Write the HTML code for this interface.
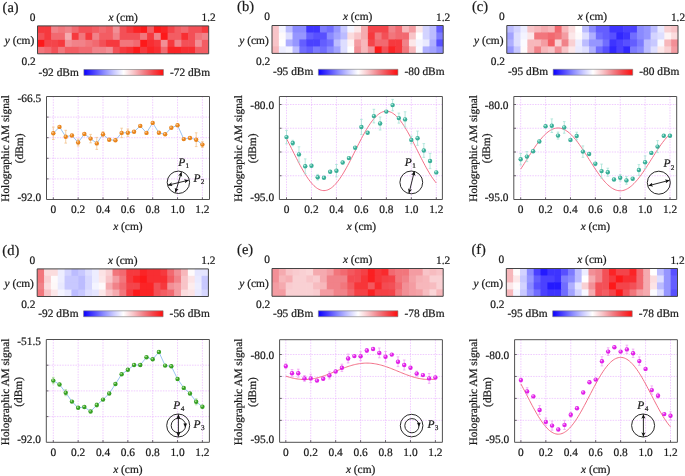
<!DOCTYPE html><html><head><meta charset="utf-8"><style>html,body{margin:0;padding:0;background:#fff;width:685px;height:476px;overflow:hidden}svg{display:block;will-change:transform}text{text-rendering:geometricPrecision;-webkit-font-smoothing:antialiased;stroke:#1a1a1a;stroke-width:0.22px}</style></head><body>
<svg width="685" height="476" viewBox="0 0 685 476" font-family="'Liberation Serif', serif" fill="#1a1a1a" stroke-linejoin="round">
<defs>
<radialGradient id="g_orange" cx="0.38" cy="0.35" r="0.65"><stop offset="0" stop-color="#ffd9a8"/><stop offset="0.45" stop-color="#e8841c"/><stop offset="1" stop-color="#e8841c"/></radialGradient>
<radialGradient id="g_teal" cx="0.38" cy="0.35" r="0.65"><stop offset="0" stop-color="#d2fff3"/><stop offset="0.45" stop-color="#3aae98"/><stop offset="1" stop-color="#3aae98"/></radialGradient>
<radialGradient id="g_green" cx="0.38" cy="0.35" r="0.65"><stop offset="0" stop-color="#d0f5b8"/><stop offset="0.45" stop-color="#36a024"/><stop offset="1" stop-color="#36a024"/></radialGradient>
<radialGradient id="g_magenta" cx="0.38" cy="0.35" r="0.65"><stop offset="0" stop-color="#ffc8ff"/><stop offset="0.45" stop-color="#e020e8"/><stop offset="1" stop-color="#e020e8"/></radialGradient>
<linearGradient id="cbar" x1="0" x2="1" y1="0" y2="0"><stop offset="0.000" stop-color="rgb(10, 0, 255)"/><stop offset="0.125" stop-color="rgb(75, 65, 255)"/><stop offset="0.250" stop-color="rgb(138, 138, 255)"/><stop offset="0.375" stop-color="rgb(200, 200, 255)"/><stop offset="0.500" stop-color="rgb(255, 255, 255)"/><stop offset="0.625" stop-color="rgb(248, 196, 200)"/><stop offset="0.750" stop-color="rgb(241, 130, 137)"/><stop offset="0.875" stop-color="rgb(244, 68, 74)"/><stop offset="1.000" stop-color="rgb(255, 14, 14)"/></linearGradient>
<marker id="ah" viewBox="0 0 10 10" refX="9.5" refY="5" markerWidth="4.6" markerHeight="4.6" orient="auto-start-reverse" markerUnits="userSpaceOnUse"><path d="M0,0.5 L10,5 L0,9.5 L2.5,5 z" fill="#111"/></marker>
</defs>
<text x="2.6" y="11.5" font-size="14.5" text-anchor="start">(a)</text>
<rect x="37.5" y="25.9" width="7.45" height="7.57" fill="rgb(246,57,62)"/>
<rect x="44.35" y="25.9" width="7.45" height="7.57" fill="rgb(246,57,62)"/>
<rect x="51.2" y="25.9" width="7.45" height="7.57" fill="rgb(241,130,137)"/>
<rect x="58.04" y="25.9" width="7.45" height="7.57" fill="rgb(242,118,124)"/>
<rect x="64.89" y="25.9" width="7.45" height="7.57" fill="rgb(241,130,137)"/>
<rect x="71.74" y="25.9" width="7.45" height="7.57" fill="rgb(242,105,112)"/>
<rect x="78.59" y="25.9" width="7.45" height="7.57" fill="rgb(243,80,87)"/>
<rect x="85.44" y="25.9" width="7.45" height="7.57" fill="rgb(243,80,87)"/>
<rect x="92.28" y="25.9" width="7.45" height="7.57" fill="rgb(243,93,99)"/>
<rect x="99.13" y="25.9" width="7.45" height="7.57" fill="rgb(242,105,112)"/>
<rect x="105.98" y="25.9" width="7.45" height="7.57" fill="rgb(243,93,99)"/>
<rect x="112.83" y="25.9" width="7.45" height="7.57" fill="rgb(242,143,150)"/>
<rect x="119.68" y="25.9" width="7.45" height="7.57" fill="rgb(243,80,87)"/>
<rect x="126.52" y="25.9" width="7.45" height="7.57" fill="rgb(246,57,62)"/>
<rect x="133.37" y="25.9" width="7.45" height="7.57" fill="rgb(251,36,38)"/>
<rect x="140.22" y="25.9" width="7.45" height="7.57" fill="rgb(253,25,26)"/>
<rect x="147.07" y="25.9" width="7.45" height="7.57" fill="rgb(243,93,99)"/>
<rect x="153.92" y="25.9" width="7.45" height="7.57" fill="rgb(253,25,26)"/>
<rect x="160.76" y="25.9" width="7.45" height="7.57" fill="rgb(251,36,38)"/>
<rect x="167.61" y="25.9" width="7.45" height="7.57" fill="rgb(244,68,74)"/>
<rect x="174.46" y="25.9" width="7.45" height="7.57" fill="rgb(243,93,99)"/>
<rect x="181.31" y="25.9" width="7.45" height="7.57" fill="rgb(242,105,112)"/>
<rect x="188.16" y="25.9" width="7.45" height="7.57" fill="rgb(243,80,87)"/>
<rect x="195" y="25.9" width="7.45" height="7.57" fill="rgb(243,80,87)"/>
<rect x="201.85" y="25.9" width="6.85" height="7.57" fill="rgb(246,57,62)"/>
<rect x="37.5" y="32.88" width="7.45" height="7.57" fill="rgb(243,80,87)"/>
<rect x="44.35" y="32.88" width="7.45" height="7.57" fill="rgb(246,57,62)"/>
<rect x="51.2" y="32.88" width="7.45" height="7.57" fill="rgb(242,105,112)"/>
<rect x="58.04" y="32.88" width="7.45" height="7.57" fill="rgb(242,105,112)"/>
<rect x="64.89" y="32.88" width="7.45" height="7.57" fill="rgb(245,170,175)"/>
<rect x="71.74" y="32.88" width="7.45" height="7.57" fill="rgb(246,57,62)"/>
<rect x="78.59" y="32.88" width="7.45" height="7.57" fill="rgb(242,118,124)"/>
<rect x="85.44" y="32.88" width="7.45" height="7.57" fill="rgb(246,57,62)"/>
<rect x="92.28" y="32.88" width="7.45" height="7.57" fill="rgb(241,130,137)"/>
<rect x="99.13" y="32.88" width="7.45" height="7.57" fill="rgb(243,93,99)"/>
<rect x="105.98" y="32.88" width="7.45" height="7.57" fill="rgb(243,93,99)"/>
<rect x="112.83" y="32.88" width="7.45" height="7.57" fill="rgb(241,130,137)"/>
<rect x="119.68" y="32.88" width="7.45" height="7.57" fill="rgb(243,80,87)"/>
<rect x="126.52" y="32.88" width="7.45" height="7.57" fill="rgb(243,80,87)"/>
<rect x="133.37" y="32.88" width="7.45" height="7.57" fill="rgb(243,80,87)"/>
<rect x="140.22" y="32.88" width="7.45" height="7.57" fill="rgb(242,118,124)"/>
<rect x="147.07" y="32.88" width="7.45" height="7.57" fill="rgb(246,57,62)"/>
<rect x="153.92" y="32.88" width="7.45" height="7.57" fill="rgb(241,130,137)"/>
<rect x="160.76" y="32.88" width="7.45" height="7.57" fill="rgb(253,25,26)"/>
<rect x="167.61" y="32.88" width="7.45" height="7.57" fill="rgb(243,93,99)"/>
<rect x="174.46" y="32.88" width="7.45" height="7.57" fill="rgb(243,93,99)"/>
<rect x="181.31" y="32.88" width="7.45" height="7.57" fill="rgb(248,46,50)"/>
<rect x="188.16" y="32.88" width="7.45" height="7.57" fill="rgb(243,80,87)"/>
<rect x="195" y="32.88" width="7.45" height="7.57" fill="rgb(242,118,124)"/>
<rect x="201.85" y="32.88" width="6.85" height="7.57" fill="rgb(241,130,137)"/>
<rect x="37.5" y="39.85" width="7.45" height="7.57" fill="rgb(253,25,26)"/>
<rect x="44.35" y="39.85" width="7.45" height="7.57" fill="rgb(244,68,74)"/>
<rect x="51.2" y="39.85" width="7.45" height="7.57" fill="rgb(244,68,74)"/>
<rect x="58.04" y="39.85" width="7.45" height="7.57" fill="rgb(246,57,62)"/>
<rect x="64.89" y="39.85" width="7.45" height="7.57" fill="rgb(242,143,150)"/>
<rect x="71.74" y="39.85" width="7.45" height="7.57" fill="rgb(241,130,137)"/>
<rect x="78.59" y="39.85" width="7.45" height="7.57" fill="rgb(241,130,137)"/>
<rect x="85.44" y="39.85" width="7.45" height="7.57" fill="rgb(242,118,124)"/>
<rect x="92.28" y="39.85" width="7.45" height="7.57" fill="rgb(242,105,112)"/>
<rect x="99.13" y="39.85" width="7.45" height="7.57" fill="rgb(243,80,87)"/>
<rect x="105.98" y="39.85" width="7.45" height="7.57" fill="rgb(246,57,62)"/>
<rect x="112.83" y="39.85" width="7.45" height="7.57" fill="rgb(246,57,62)"/>
<rect x="119.68" y="39.85" width="7.45" height="7.57" fill="rgb(242,118,124)"/>
<rect x="126.52" y="39.85" width="7.45" height="7.57" fill="rgb(242,118,124)"/>
<rect x="133.37" y="39.85" width="7.45" height="7.57" fill="rgb(242,105,112)"/>
<rect x="140.22" y="39.85" width="7.45" height="7.57" fill="rgb(253,25,26)"/>
<rect x="147.07" y="39.85" width="7.45" height="7.57" fill="rgb(248,46,50)"/>
<rect x="153.92" y="39.85" width="7.45" height="7.57" fill="rgb(246,57,62)"/>
<rect x="160.76" y="39.85" width="7.45" height="7.57" fill="rgb(242,143,150)"/>
<rect x="167.61" y="39.85" width="7.45" height="7.57" fill="rgb(246,57,62)"/>
<rect x="174.46" y="39.85" width="7.45" height="7.57" fill="rgb(241,130,137)"/>
<rect x="181.31" y="39.85" width="7.45" height="7.57" fill="rgb(243,80,87)"/>
<rect x="188.16" y="39.85" width="7.45" height="7.57" fill="rgb(243,80,87)"/>
<rect x="195" y="39.85" width="7.45" height="7.57" fill="rgb(242,143,150)"/>
<rect x="201.85" y="39.85" width="6.85" height="7.57" fill="rgb(243,93,99)"/>
<rect x="37.5" y="46.82" width="7.45" height="6.97" fill="rgb(242,118,124)"/>
<rect x="44.35" y="46.82" width="7.45" height="6.97" fill="rgb(242,105,112)"/>
<rect x="51.2" y="46.82" width="7.45" height="6.97" fill="rgb(243,80,87)"/>
<rect x="58.04" y="46.82" width="7.45" height="6.97" fill="rgb(242,118,124)"/>
<rect x="64.89" y="46.82" width="7.45" height="6.97" fill="rgb(243,93,99)"/>
<rect x="71.74" y="46.82" width="7.45" height="6.97" fill="rgb(243,93,99)"/>
<rect x="78.59" y="46.82" width="7.45" height="6.97" fill="rgb(242,105,112)"/>
<rect x="85.44" y="46.82" width="7.45" height="6.97" fill="rgb(242,105,112)"/>
<rect x="92.28" y="46.82" width="7.45" height="6.97" fill="rgb(241,130,137)"/>
<rect x="99.13" y="46.82" width="7.45" height="6.97" fill="rgb(241,130,137)"/>
<rect x="105.98" y="46.82" width="7.45" height="6.97" fill="rgb(242,143,150)"/>
<rect x="112.83" y="46.82" width="7.45" height="6.97" fill="rgb(243,80,87)"/>
<rect x="119.68" y="46.82" width="7.45" height="6.97" fill="rgb(246,57,62)"/>
<rect x="126.52" y="46.82" width="7.45" height="6.97" fill="rgb(248,46,50)"/>
<rect x="133.37" y="46.82" width="7.45" height="6.97" fill="rgb(253,25,26)"/>
<rect x="140.22" y="46.82" width="7.45" height="6.97" fill="rgb(246,57,62)"/>
<rect x="147.07" y="46.82" width="7.45" height="6.97" fill="rgb(251,36,38)"/>
<rect x="153.92" y="46.82" width="7.45" height="6.97" fill="rgb(248,46,50)"/>
<rect x="160.76" y="46.82" width="7.45" height="6.97" fill="rgb(242,105,112)"/>
<rect x="167.61" y="46.82" width="7.45" height="6.97" fill="rgb(251,36,38)"/>
<rect x="174.46" y="46.82" width="7.45" height="6.97" fill="rgb(251,36,38)"/>
<rect x="181.31" y="46.82" width="7.45" height="6.97" fill="rgb(248,46,50)"/>
<rect x="188.16" y="46.82" width="7.45" height="6.97" fill="rgb(248,46,50)"/>
<rect x="195" y="46.82" width="7.45" height="6.97" fill="rgb(243,93,99)"/>
<rect x="201.85" y="46.82" width="6.85" height="6.97" fill="rgb(243,93,99)"/>
<rect x="37.5" y="25.9" width="171.2" height="27.9" fill="none" stroke="#444" stroke-width="1"/>
<text x="35.5" y="20.8" font-size="11.4" text-anchor="end">0</text>
<text x="123.1" y="20.8" font-size="11.4" text-anchor="middle"><tspan font-style="italic">x</tspan> (cm)</text>
<text x="208.7" y="21" font-size="11.4" text-anchor="middle">1.2</text>
<text x="34.2" y="44" font-size="11.4" text-anchor="end"><tspan font-style="italic">y</tspan> (cm)</text>
<text x="35.7" y="65.1" font-size="11.4" text-anchor="end">0.2</text>
<rect x="83.9" y="69.5" width="79.5" height="5.9" fill="url(#cbar)" stroke="#777" stroke-width="0.6"/>
<text x="78.8" y="75.5" font-size="11.4" text-anchor="end">-92 dBm</text>
<text x="169.9" y="75.5" font-size="11.4" text-anchor="start">-72 dBm</text>
<path d="M46.5,117.1H209.5M46.5,137.7H209.5M46.5,158.3H209.5M46.5,178.9H209.5M53.3,96.5V199.5M78.15,96.5V199.5M103,96.5V199.5M127.85,96.5V199.5M152.7,96.5V199.5M177.55,96.5V199.5M202.4,96.5V199.5" stroke="#e6aaff" stroke-width="0.6" stroke-dasharray="1.5,1.15" fill="none"/>
<path d="M46.5,117.1h2.2M46.5,137.7h2.2M46.5,158.3h2.2M46.5,178.9h2.2M53.3,199.5v-2.2M78.15,199.5v-2.2M103,199.5v-2.2M127.85,199.5v-2.2M152.7,199.5v-2.2M177.55,199.5v-2.2M202.4,199.5v-2.2" stroke="#444" stroke-width="0.8" fill="none"/>
<rect x="46.5" y="96.5" width="163" height="103" fill="none" stroke="#505050" stroke-width="1"/>
<text x="41.2" y="102.1" font-size="11.4" text-anchor="end">-66.5</text>
<text x="41.2" y="200.6" font-size="11.4" text-anchor="end">-92.0</text>
<text x="53.3" y="213.2" font-size="11.4" text-anchor="middle">0</text>
<text x="78.15" y="213.2" font-size="11.4" text-anchor="middle">0.2</text>
<text x="103" y="213.2" font-size="11.4" text-anchor="middle">0.4</text>
<text x="127.85" y="213.2" font-size="11.4" text-anchor="middle">0.6</text>
<text x="152.7" y="213.2" font-size="11.4" text-anchor="middle">0.8</text>
<text x="177.55" y="213.2" font-size="11.4" text-anchor="middle">1.0</text>
<text x="202.4" y="213.2" font-size="11.4" text-anchor="middle">1.2</text>
<text x="127.85" y="229.8" font-size="11.4" text-anchor="middle"><tspan font-style="italic">x</tspan> (cm)</text>
<text transform="translate(9.2,148.4) rotate(-90)" font-size="11.3" text-anchor="middle">Holographic AM signal</text>
<text transform="translate(22.6,148.4) rotate(-90)" font-size="11.4" text-anchor="middle">(dBm)</text>
<polyline points="53.3,133.3 59.51,126.9 65.72,136.7 71.94,135.5 78.15,142.5 84.36,134 90.58,138.6 96.79,143.4 103,134.2 109.21,139.8 115.43,140.3 121.64,132.9 127.85,132.7 134.06,131.8 140.28,125.9 146.49,132.9 152.7,122.9 158.91,132.8 165.13,134.3 171.34,127.8 177.55,125.3 183.76,139.1 189.98,138 196.19,139.7 202.4,144.6" fill="none" stroke="#8ebcf0" stroke-width="0.9"/>
<path d="M53.3,127.1V139.5M52,127.1h2.6M52,139.5h2.6M65.72,130.3V143.1M64.42,130.3h2.6M64.42,143.1h2.6M78.15,139V146M76.85,139h2.6M76.85,146h2.6M90.58,134.4V142.8M89.28,134.4h2.6M89.28,142.8h2.6M96.79,137.4V149.4M95.49,137.4h2.6M95.49,149.4h2.6M103,131.6V136.8M101.7,131.6h2.6M101.7,136.8h2.6M121.64,128.2V137.6M120.34,128.2h2.6M120.34,137.6h2.6M127.85,129V136.4M126.55,129h2.6M126.55,136.4h2.6M196.19,132.8V146.6M194.89,132.8h2.6M194.89,146.6h2.6M202.4,141.7V147.5M201.1,141.7h2.6M201.1,147.5h2.6" stroke="#f2c48e" stroke-width="0.8" fill="none"/>
<circle cx="53.3" cy="133.3" r="2.2" fill="url(#g_orange)"/>
<circle cx="59.51" cy="126.9" r="2.2" fill="url(#g_orange)"/>
<circle cx="65.72" cy="136.7" r="2.2" fill="url(#g_orange)"/>
<circle cx="71.94" cy="135.5" r="2.2" fill="url(#g_orange)"/>
<circle cx="78.15" cy="142.5" r="2.2" fill="url(#g_orange)"/>
<circle cx="84.36" cy="134" r="2.2" fill="url(#g_orange)"/>
<circle cx="90.58" cy="138.6" r="2.2" fill="url(#g_orange)"/>
<circle cx="96.79" cy="143.4" r="2.2" fill="url(#g_orange)"/>
<circle cx="103" cy="134.2" r="2.2" fill="url(#g_orange)"/>
<circle cx="109.21" cy="139.8" r="2.2" fill="url(#g_orange)"/>
<circle cx="115.43" cy="140.3" r="2.2" fill="url(#g_orange)"/>
<circle cx="121.64" cy="132.9" r="2.2" fill="url(#g_orange)"/>
<circle cx="127.85" cy="132.7" r="2.2" fill="url(#g_orange)"/>
<circle cx="134.06" cy="131.8" r="2.2" fill="url(#g_orange)"/>
<circle cx="140.28" cy="125.9" r="2.2" fill="url(#g_orange)"/>
<circle cx="146.49" cy="132.9" r="2.2" fill="url(#g_orange)"/>
<circle cx="152.7" cy="122.9" r="2.2" fill="url(#g_orange)"/>
<circle cx="158.91" cy="132.8" r="2.2" fill="url(#g_orange)"/>
<circle cx="165.13" cy="134.3" r="2.2" fill="url(#g_orange)"/>
<circle cx="171.34" cy="127.8" r="2.2" fill="url(#g_orange)"/>
<circle cx="177.55" cy="125.3" r="2.2" fill="url(#g_orange)"/>
<circle cx="183.76" cy="139.1" r="2.2" fill="url(#g_orange)"/>
<circle cx="189.98" cy="138" r="2.2" fill="url(#g_orange)"/>
<circle cx="196.19" cy="139.7" r="2.2" fill="url(#g_orange)"/>
<circle cx="202.4" cy="144.6" r="2.2" fill="url(#g_orange)"/>
<text x="237.1" y="11.1" font-size="14.5" text-anchor="start">(b)</text>
<rect x="272" y="25.5" width="7.45" height="7.57" fill="rgb(248,196,200)"/>
<rect x="278.85" y="25.5" width="7.45" height="7.57" fill="rgb(244,244,255)"/>
<rect x="285.7" y="25.5" width="7.45" height="7.57" fill="rgb(188,188,255)"/>
<rect x="292.54" y="25.5" width="7.45" height="7.57" fill="rgb(138,138,255)"/>
<rect x="299.39" y="25.5" width="7.45" height="7.57" fill="rgb(138,138,255)"/>
<rect x="306.24" y="25.5" width="7.45" height="7.57" fill="rgb(62,52,255)"/>
<rect x="313.09" y="25.5" width="7.45" height="7.57" fill="rgb(62,52,255)"/>
<rect x="319.94" y="25.5" width="7.45" height="7.57" fill="rgb(125,123,255)"/>
<rect x="326.78" y="25.5" width="7.45" height="7.57" fill="rgb(113,109,255)"/>
<rect x="333.63" y="25.5" width="7.45" height="7.57" fill="rgb(150,150,255)"/>
<rect x="340.48" y="25.5" width="7.45" height="7.57" fill="rgb(200,200,255)"/>
<rect x="347.33" y="25.5" width="7.45" height="7.57" fill="rgb(244,244,255)"/>
<rect x="354.18" y="25.5" width="7.45" height="7.57" fill="rgb(252,231,233)"/>
<rect x="361.02" y="25.5" width="7.45" height="7.57" fill="rgb(245,170,175)"/>
<rect x="367.87" y="25.5" width="7.45" height="7.57" fill="rgb(244,68,74)"/>
<rect x="374.72" y="25.5" width="7.45" height="7.57" fill="rgb(244,68,74)"/>
<rect x="381.57" y="25.5" width="7.45" height="7.57" fill="rgb(244,68,74)"/>
<rect x="388.42" y="25.5" width="7.45" height="7.57" fill="rgb(241,130,137)"/>
<rect x="395.26" y="25.5" width="7.45" height="7.57" fill="rgb(242,105,112)"/>
<rect x="402.11" y="25.5" width="7.45" height="7.57" fill="rgb(247,183,187)"/>
<rect x="408.96" y="25.5" width="7.45" height="7.57" fill="rgb(244,156,162)"/>
<rect x="415.81" y="25.5" width="7.45" height="7.57" fill="rgb(252,231,233)"/>
<rect x="422.66" y="25.5" width="7.45" height="7.57" fill="rgb(211,211,255)"/>
<rect x="429.5" y="25.5" width="7.45" height="7.57" fill="rgb(188,188,255)"/>
<rect x="436.35" y="25.5" width="6.85" height="7.57" fill="rgb(100,94,255)"/>
<rect x="272" y="32.48" width="7.45" height="7.57" fill="rgb(248,196,200)"/>
<rect x="278.85" y="32.48" width="7.45" height="7.57" fill="rgb(254,250,251)"/>
<rect x="285.7" y="32.48" width="7.45" height="7.57" fill="rgb(222,222,255)"/>
<rect x="292.54" y="32.48" width="7.45" height="7.57" fill="rgb(150,150,255)"/>
<rect x="299.39" y="32.48" width="7.45" height="7.57" fill="rgb(150,150,255)"/>
<rect x="306.24" y="32.48" width="7.45" height="7.57" fill="rgb(100,94,255)"/>
<rect x="313.09" y="32.48" width="7.45" height="7.57" fill="rgb(88,80,255)"/>
<rect x="319.94" y="32.48" width="7.45" height="7.57" fill="rgb(88,80,255)"/>
<rect x="326.78" y="32.48" width="7.45" height="7.57" fill="rgb(138,138,255)"/>
<rect x="333.63" y="32.48" width="7.45" height="7.57" fill="rgb(163,163,255)"/>
<rect x="340.48" y="32.48" width="7.45" height="7.57" fill="rgb(188,188,255)"/>
<rect x="347.33" y="32.48" width="7.45" height="7.57" fill="rgb(251,220,222)"/>
<rect x="354.18" y="32.48" width="7.45" height="7.57" fill="rgb(248,196,200)"/>
<rect x="361.02" y="32.48" width="7.45" height="7.57" fill="rgb(245,170,175)"/>
<rect x="367.87" y="32.48" width="7.45" height="7.57" fill="rgb(246,57,62)"/>
<rect x="374.72" y="32.48" width="7.45" height="7.57" fill="rgb(242,118,124)"/>
<rect x="381.57" y="32.48" width="7.45" height="7.57" fill="rgb(243,80,87)"/>
<rect x="388.42" y="32.48" width="7.45" height="7.57" fill="rgb(242,118,124)"/>
<rect x="395.26" y="32.48" width="7.45" height="7.57" fill="rgb(242,105,112)"/>
<rect x="402.11" y="32.48" width="7.45" height="7.57" fill="rgb(242,105,112)"/>
<rect x="408.96" y="32.48" width="7.45" height="7.57" fill="rgb(248,196,200)"/>
<rect x="415.81" y="32.48" width="7.45" height="7.57" fill="rgb(255,255,255)"/>
<rect x="422.66" y="32.48" width="7.45" height="7.57" fill="rgb(211,211,255)"/>
<rect x="429.5" y="32.48" width="7.45" height="7.57" fill="rgb(188,188,255)"/>
<rect x="436.35" y="32.48" width="6.85" height="7.57" fill="rgb(125,123,255)"/>
<rect x="272" y="39.45" width="7.45" height="7.57" fill="rgb(248,196,200)"/>
<rect x="278.85" y="39.45" width="7.45" height="7.57" fill="rgb(255,255,255)"/>
<rect x="285.7" y="39.45" width="7.45" height="7.57" fill="rgb(175,175,255)"/>
<rect x="292.54" y="39.45" width="7.45" height="7.57" fill="rgb(150,150,255)"/>
<rect x="299.39" y="39.45" width="7.45" height="7.57" fill="rgb(100,94,255)"/>
<rect x="306.24" y="39.45" width="7.45" height="7.57" fill="rgb(75,65,255)"/>
<rect x="313.09" y="39.45" width="7.45" height="7.57" fill="rgb(75,65,255)"/>
<rect x="319.94" y="39.45" width="7.45" height="7.57" fill="rgb(100,94,255)"/>
<rect x="326.78" y="39.45" width="7.45" height="7.57" fill="rgb(113,109,255)"/>
<rect x="333.63" y="39.45" width="7.45" height="7.57" fill="rgb(188,188,255)"/>
<rect x="340.48" y="39.45" width="7.45" height="7.57" fill="rgb(222,222,255)"/>
<rect x="347.33" y="39.45" width="7.45" height="7.57" fill="rgb(254,243,244)"/>
<rect x="354.18" y="39.45" width="7.45" height="7.57" fill="rgb(244,156,162)"/>
<rect x="361.02" y="39.45" width="7.45" height="7.57" fill="rgb(247,183,187)"/>
<rect x="367.87" y="39.45" width="7.45" height="7.57" fill="rgb(244,68,74)"/>
<rect x="374.72" y="39.45" width="7.45" height="7.57" fill="rgb(242,105,112)"/>
<rect x="381.57" y="39.45" width="7.45" height="7.57" fill="rgb(242,105,112)"/>
<rect x="388.42" y="39.45" width="7.45" height="7.57" fill="rgb(246,57,62)"/>
<rect x="395.26" y="39.45" width="7.45" height="7.57" fill="rgb(246,57,62)"/>
<rect x="402.11" y="39.45" width="7.45" height="7.57" fill="rgb(241,130,137)"/>
<rect x="408.96" y="39.45" width="7.45" height="7.57" fill="rgb(252,231,233)"/>
<rect x="415.81" y="39.45" width="7.45" height="7.57" fill="rgb(244,244,255)"/>
<rect x="422.66" y="39.45" width="7.45" height="7.57" fill="rgb(233,233,255)"/>
<rect x="429.5" y="39.45" width="7.45" height="7.57" fill="rgb(175,175,255)"/>
<rect x="436.35" y="39.45" width="6.85" height="7.57" fill="rgb(88,80,255)"/>
<rect x="272" y="46.42" width="7.45" height="6.97" fill="rgb(247,183,187)"/>
<rect x="278.85" y="46.42" width="7.45" height="6.97" fill="rgb(237,237,255)"/>
<rect x="285.7" y="46.42" width="7.45" height="6.97" fill="rgb(244,244,255)"/>
<rect x="292.54" y="46.42" width="7.45" height="6.97" fill="rgb(188,188,255)"/>
<rect x="299.39" y="46.42" width="7.45" height="6.97" fill="rgb(113,109,255)"/>
<rect x="306.24" y="46.42" width="7.45" height="6.97" fill="rgb(100,94,255)"/>
<rect x="313.09" y="46.42" width="7.45" height="6.97" fill="rgb(125,123,255)"/>
<rect x="319.94" y="46.42" width="7.45" height="6.97" fill="rgb(113,109,255)"/>
<rect x="326.78" y="46.42" width="7.45" height="6.97" fill="rgb(138,138,255)"/>
<rect x="333.63" y="46.42" width="7.45" height="6.97" fill="rgb(163,163,255)"/>
<rect x="340.48" y="46.42" width="7.45" height="6.97" fill="rgb(222,222,255)"/>
<rect x="347.33" y="46.42" width="7.45" height="6.97" fill="rgb(255,255,255)"/>
<rect x="354.18" y="46.42" width="7.45" height="6.97" fill="rgb(242,143,150)"/>
<rect x="361.02" y="46.42" width="7.45" height="6.97" fill="rgb(247,183,187)"/>
<rect x="367.87" y="46.42" width="7.45" height="6.97" fill="rgb(242,143,150)"/>
<rect x="374.72" y="46.42" width="7.45" height="6.97" fill="rgb(253,25,26)"/>
<rect x="381.57" y="46.42" width="7.45" height="6.97" fill="rgb(243,80,87)"/>
<rect x="388.42" y="46.42" width="7.45" height="6.97" fill="rgb(251,36,38)"/>
<rect x="395.26" y="46.42" width="7.45" height="6.97" fill="rgb(246,57,62)"/>
<rect x="402.11" y="46.42" width="7.45" height="6.97" fill="rgb(242,118,124)"/>
<rect x="408.96" y="46.42" width="7.45" height="6.97" fill="rgb(247,183,187)"/>
<rect x="415.81" y="46.42" width="7.45" height="6.97" fill="rgb(248,248,255)"/>
<rect x="422.66" y="46.42" width="7.45" height="6.97" fill="rgb(175,175,255)"/>
<rect x="429.5" y="46.42" width="7.45" height="6.97" fill="rgb(163,163,255)"/>
<rect x="436.35" y="46.42" width="6.85" height="6.97" fill="rgb(138,138,255)"/>
<rect x="272" y="25.5" width="171.2" height="27.9" fill="none" stroke="#444" stroke-width="1"/>
<text x="270" y="20.4" font-size="11.4" text-anchor="end">0</text>
<text x="357.6" y="20.4" font-size="11.4" text-anchor="middle"><tspan font-style="italic">x</tspan> (cm)</text>
<text x="443.2" y="20.6" font-size="11.4" text-anchor="middle">1.2</text>
<text x="268.7" y="43.6" font-size="11.4" text-anchor="end"><tspan font-style="italic">y</tspan> (cm)</text>
<text x="270.2" y="64.7" font-size="11.4" text-anchor="end">0.2</text>
<rect x="318.4" y="69.3" width="79.5" height="5.9" fill="url(#cbar)" stroke="#777" stroke-width="0.6"/>
<text x="313.3" y="75.3" font-size="11.4" text-anchor="end">-95 dBm</text>
<text x="404.4" y="75.3" font-size="11.4" text-anchor="start">-80 dBm</text>
<path d="M279.4,104.5H442.4M279.4,128.25H442.4M279.4,152H442.4M279.4,175.75H442.4M286.5,96.5V199.5M311.47,96.5V199.5M336.43,96.5V199.5M361.4,96.5V199.5M386.37,96.5V199.5M411.33,96.5V199.5M436.3,96.5V199.5" stroke="#e6aaff" stroke-width="0.6" stroke-dasharray="1.5,1.15" fill="none"/>
<path d="M279.4,104.5h2.2M279.4,128.25h2.2M279.4,152h2.2M279.4,175.75h2.2M286.5,199.5v-2.2M311.47,199.5v-2.2M336.43,199.5v-2.2M361.4,199.5v-2.2M386.37,199.5v-2.2M411.33,199.5v-2.2M436.3,199.5v-2.2" stroke="#444" stroke-width="0.8" fill="none"/>
<rect x="279.4" y="96.5" width="163" height="103" fill="none" stroke="#505050" stroke-width="1"/>
<text x="274.1" y="108.7" font-size="11.4" text-anchor="end">-80.0</text>
<text x="274.1" y="200.6" font-size="11.4" text-anchor="end">-95.0</text>
<text x="286.5" y="213.2" font-size="11.4" text-anchor="middle">0</text>
<text x="311.47" y="213.2" font-size="11.4" text-anchor="middle">0.2</text>
<text x="336.43" y="213.2" font-size="11.4" text-anchor="middle">0.4</text>
<text x="361.4" y="213.2" font-size="11.4" text-anchor="middle">0.6</text>
<text x="386.37" y="213.2" font-size="11.4" text-anchor="middle">0.8</text>
<text x="411.33" y="213.2" font-size="11.4" text-anchor="middle">1.0</text>
<text x="436.3" y="213.2" font-size="11.4" text-anchor="middle">1.2</text>
<text x="361.4" y="229.8" font-size="11.4" text-anchor="middle"><tspan font-style="italic">x</tspan> (cm)</text>
<text transform="translate(242.1,148.4) rotate(-90)" font-size="11.3" text-anchor="middle">Holographic AM signal</text>
<text transform="translate(255.5,148.4) rotate(-90)" font-size="11.4" text-anchor="middle">(dBm)</text>
<polyline points="286.5,138.63 287.75,141.03 289,143.46 290.25,145.92 291.49,148.41 292.74,150.9 293.99,153.39 295.24,155.88 296.49,158.34 297.74,160.77 298.98,163.17 300.23,165.51 301.48,167.8 302.73,170.03 303.98,172.17 305.23,174.24 306.47,176.21 307.72,178.08 308.97,179.84 310.22,181.49 311.47,183.02 312.72,184.42 313.96,185.69 315.21,186.82 316.46,187.81 317.71,188.66 318.96,189.35 320.2,189.9 321.45,190.29 322.7,190.52 323.95,190.6 325.2,190.52 326.45,190.29 327.69,189.9 328.94,189.35 330.19,188.66 331.44,187.81 332.69,186.82 333.94,185.69 335.19,184.42 336.43,183.02 337.68,181.49 338.93,179.84 340.18,178.08 341.43,176.21 342.68,174.24 343.92,172.17 345.17,170.03 346.42,167.8 347.67,165.51 348.92,163.17 350.17,160.77 351.41,158.34 352.66,155.88 353.91,153.39 355.16,150.9 356.41,148.41 357.65,145.92 358.9,143.46 360.15,141.03 361.4,138.63 362.65,136.29 363.9,134 365.14,131.77 366.39,129.63 367.64,127.56 368.89,125.59 370.14,123.72 371.39,121.96 372.63,120.31 373.88,118.78 375.13,117.38 376.38,116.11 377.63,114.98 378.88,113.99 380.12,113.14 381.37,112.45 382.62,111.9 383.87,111.51 385.12,111.28 386.37,111.2 387.62,111.28 388.86,111.51 390.11,111.9 391.36,112.45 392.61,113.14 393.86,113.99 395.11,114.98 396.35,116.11 397.6,117.38 398.85,118.78 400.1,120.31 401.35,121.96 402.6,123.72 403.84,125.59 405.09,127.56 406.34,129.63 407.59,131.77 408.84,134 410.09,136.29 411.33,138.63 412.58,141.03 413.83,143.46 415.08,145.92 416.33,148.41 417.58,150.9 418.82,153.39 420.07,155.88 421.32,158.34 422.57,160.77 423.82,163.17 425.06,165.51 426.31,167.8 427.56,170.03 428.81,172.17 430.06,174.24 431.31,176.21 432.56,178.08 433.8,179.84 435.05,181.49 436.3,183.02" fill="none" stroke="#f0607a" stroke-width="0.9"/>
<path d="M286.5,130.4V143.8M285.2,130.4h2.6M285.2,143.8h2.6M292.74,140.3V145.7M291.44,140.3h2.6M291.44,145.7h2.6M298.98,146.8V162M297.68,146.8h2.6M297.68,162h2.6M305.23,158.9V173.7M303.93,158.9h2.6M303.93,173.7h2.6M317.71,174.4V180M316.41,174.4h2.6M316.41,180h2.6M336.43,164.5V176.9M335.13,164.5h2.6M335.13,176.9h2.6M361.4,119.4V134.6M360.1,119.4h2.6M360.1,134.6h2.6M373.88,109.3V122.9M372.58,109.3h2.6M372.58,122.9h2.6M380.12,117V130M378.82,117h2.6M378.82,130h2.6M392.61,99.4V110.8M391.31,99.4h2.6M391.31,110.8h2.6M398.85,113.1V123.1M397.55,113.1h2.6M397.55,123.1h2.6M405.09,111.8V127M403.79,111.8h2.6M403.79,127h2.6M411.33,136.1V143.7M410.03,136.1h2.6M410.03,143.7h2.6M417.58,131.1V145.3M416.28,131.1h2.6M416.28,145.3h2.6M423.82,143.6V157.4M422.52,143.6h2.6M422.52,157.4h2.6M430.06,153.4V168.6M428.76,153.4h2.6M428.76,168.6h2.6" stroke="#a6e2d6" stroke-width="0.8" fill="none"/>
<circle cx="286.5" cy="137.1" r="2.2" fill="url(#g_teal)"/>
<circle cx="292.74" cy="143" r="2.2" fill="url(#g_teal)"/>
<circle cx="298.98" cy="154.4" r="2.2" fill="url(#g_teal)"/>
<circle cx="305.23" cy="166.3" r="2.2" fill="url(#g_teal)"/>
<circle cx="311.47" cy="165.7" r="2.2" fill="url(#g_teal)"/>
<circle cx="317.71" cy="177.2" r="2.2" fill="url(#g_teal)"/>
<circle cx="323.95" cy="177.8" r="2.2" fill="url(#g_teal)"/>
<circle cx="330.19" cy="171.8" r="2.2" fill="url(#g_teal)"/>
<circle cx="336.43" cy="170.7" r="2.2" fill="url(#g_teal)"/>
<circle cx="342.68" cy="162.5" r="2.2" fill="url(#g_teal)"/>
<circle cx="348.92" cy="158.1" r="2.2" fill="url(#g_teal)"/>
<circle cx="355.16" cy="147.7" r="2.2" fill="url(#g_teal)"/>
<circle cx="361.4" cy="127" r="2.2" fill="url(#g_teal)"/>
<circle cx="367.64" cy="132.8" r="2.2" fill="url(#g_teal)"/>
<circle cx="373.88" cy="116.1" r="2.2" fill="url(#g_teal)"/>
<circle cx="380.12" cy="123.5" r="2.2" fill="url(#g_teal)"/>
<circle cx="386.37" cy="111.6" r="2.2" fill="url(#g_teal)"/>
<circle cx="392.61" cy="105.1" r="2.2" fill="url(#g_teal)"/>
<circle cx="398.85" cy="118.1" r="2.2" fill="url(#g_teal)"/>
<circle cx="405.09" cy="119.4" r="2.2" fill="url(#g_teal)"/>
<circle cx="411.33" cy="139.9" r="2.2" fill="url(#g_teal)"/>
<circle cx="417.58" cy="138.2" r="2.2" fill="url(#g_teal)"/>
<circle cx="423.82" cy="150.5" r="2.2" fill="url(#g_teal)"/>
<circle cx="430.06" cy="161" r="2.2" fill="url(#g_teal)"/>
<circle cx="436.3" cy="172.4" r="2.2" fill="url(#g_teal)"/>
<text x="471.9" y="11.1" font-size="14.5" text-anchor="start">(c)</text>
<rect x="506.8" y="25.5" width="7.45" height="7.57" fill="rgb(188,188,255)"/>
<rect x="513.65" y="25.5" width="7.45" height="7.57" fill="rgb(211,211,255)"/>
<rect x="520.5" y="25.5" width="7.45" height="7.57" fill="rgb(237,237,255)"/>
<rect x="527.34" y="25.5" width="7.45" height="7.57" fill="rgb(248,196,200)"/>
<rect x="534.19" y="25.5" width="7.45" height="7.57" fill="rgb(247,183,187)"/>
<rect x="541.04" y="25.5" width="7.45" height="7.57" fill="rgb(245,170,175)"/>
<rect x="547.89" y="25.5" width="7.45" height="7.57" fill="rgb(247,183,187)"/>
<rect x="554.74" y="25.5" width="7.45" height="7.57" fill="rgb(242,105,112)"/>
<rect x="561.58" y="25.5" width="7.45" height="7.57" fill="rgb(247,183,187)"/>
<rect x="568.43" y="25.5" width="7.45" height="7.57" fill="rgb(251,220,222)"/>
<rect x="575.28" y="25.5" width="7.45" height="7.57" fill="rgb(255,255,255)"/>
<rect x="582.13" y="25.5" width="7.45" height="7.57" fill="rgb(188,188,255)"/>
<rect x="588.98" y="25.5" width="7.45" height="7.57" fill="rgb(138,138,255)"/>
<rect x="595.82" y="25.5" width="7.45" height="7.57" fill="rgb(100,94,255)"/>
<rect x="602.67" y="25.5" width="7.45" height="7.57" fill="rgb(100,94,255)"/>
<rect x="609.52" y="25.5" width="7.45" height="7.57" fill="rgb(62,52,255)"/>
<rect x="616.37" y="25.5" width="7.45" height="7.57" fill="rgb(62,52,255)"/>
<rect x="623.22" y="25.5" width="7.45" height="7.57" fill="rgb(75,65,255)"/>
<rect x="630.06" y="25.5" width="7.45" height="7.57" fill="rgb(75,65,255)"/>
<rect x="636.91" y="25.5" width="7.45" height="7.57" fill="rgb(138,138,255)"/>
<rect x="643.76" y="25.5" width="7.45" height="7.57" fill="rgb(150,150,255)"/>
<rect x="650.61" y="25.5" width="7.45" height="7.57" fill="rgb(188,188,255)"/>
<rect x="657.46" y="25.5" width="7.45" height="7.57" fill="rgb(233,233,255)"/>
<rect x="664.3" y="25.5" width="7.45" height="7.57" fill="rgb(249,208,211)"/>
<rect x="671.15" y="25.5" width="6.85" height="7.57" fill="rgb(248,196,200)"/>
<rect x="506.8" y="32.48" width="7.45" height="7.57" fill="rgb(163,163,255)"/>
<rect x="513.65" y="32.48" width="7.45" height="7.57" fill="rgb(222,222,255)"/>
<rect x="520.5" y="32.48" width="7.45" height="7.57" fill="rgb(244,244,255)"/>
<rect x="527.34" y="32.48" width="7.45" height="7.57" fill="rgb(252,231,233)"/>
<rect x="534.19" y="32.48" width="7.45" height="7.57" fill="rgb(242,118,124)"/>
<rect x="541.04" y="32.48" width="7.45" height="7.57" fill="rgb(242,118,124)"/>
<rect x="547.89" y="32.48" width="7.45" height="7.57" fill="rgb(242,105,112)"/>
<rect x="554.74" y="32.48" width="7.45" height="7.57" fill="rgb(242,118,124)"/>
<rect x="561.58" y="32.48" width="7.45" height="7.57" fill="rgb(244,156,162)"/>
<rect x="568.43" y="32.48" width="7.45" height="7.57" fill="rgb(252,231,233)"/>
<rect x="575.28" y="32.48" width="7.45" height="7.57" fill="rgb(254,250,251)"/>
<rect x="582.13" y="32.48" width="7.45" height="7.57" fill="rgb(222,222,255)"/>
<rect x="588.98" y="32.48" width="7.45" height="7.57" fill="rgb(175,175,255)"/>
<rect x="595.82" y="32.48" width="7.45" height="7.57" fill="rgb(113,109,255)"/>
<rect x="602.67" y="32.48" width="7.45" height="7.57" fill="rgb(100,94,255)"/>
<rect x="609.52" y="32.48" width="7.45" height="7.57" fill="rgb(88,80,255)"/>
<rect x="616.37" y="32.48" width="7.45" height="7.57" fill="rgb(49,39,255)"/>
<rect x="623.22" y="32.48" width="7.45" height="7.57" fill="rgb(62,52,255)"/>
<rect x="630.06" y="32.48" width="7.45" height="7.57" fill="rgb(113,109,255)"/>
<rect x="636.91" y="32.48" width="7.45" height="7.57" fill="rgb(138,138,255)"/>
<rect x="643.76" y="32.48" width="7.45" height="7.57" fill="rgb(150,150,255)"/>
<rect x="650.61" y="32.48" width="7.45" height="7.57" fill="rgb(211,211,255)"/>
<rect x="657.46" y="32.48" width="7.45" height="7.57" fill="rgb(222,222,255)"/>
<rect x="664.3" y="32.48" width="7.45" height="7.57" fill="rgb(254,243,244)"/>
<rect x="671.15" y="32.48" width="6.85" height="7.57" fill="rgb(251,220,222)"/>
<rect x="506.8" y="39.45" width="7.45" height="7.57" fill="rgb(175,175,255)"/>
<rect x="513.65" y="39.45" width="7.45" height="7.57" fill="rgb(222,222,255)"/>
<rect x="520.5" y="39.45" width="7.45" height="7.57" fill="rgb(251,251,255)"/>
<rect x="527.34" y="39.45" width="7.45" height="7.57" fill="rgb(247,183,187)"/>
<rect x="534.19" y="39.45" width="7.45" height="7.57" fill="rgb(247,183,187)"/>
<rect x="541.04" y="39.45" width="7.45" height="7.57" fill="rgb(244,156,162)"/>
<rect x="547.89" y="39.45" width="7.45" height="7.57" fill="rgb(243,93,99)"/>
<rect x="554.74" y="39.45" width="7.45" height="7.57" fill="rgb(249,208,211)"/>
<rect x="561.58" y="39.45" width="7.45" height="7.57" fill="rgb(241,130,137)"/>
<rect x="568.43" y="39.45" width="7.45" height="7.57" fill="rgb(249,208,211)"/>
<rect x="575.28" y="39.45" width="7.45" height="7.57" fill="rgb(237,237,255)"/>
<rect x="582.13" y="39.45" width="7.45" height="7.57" fill="rgb(188,188,255)"/>
<rect x="588.98" y="39.45" width="7.45" height="7.57" fill="rgb(150,150,255)"/>
<rect x="595.82" y="39.45" width="7.45" height="7.57" fill="rgb(150,150,255)"/>
<rect x="602.67" y="39.45" width="7.45" height="7.57" fill="rgb(113,109,255)"/>
<rect x="609.52" y="39.45" width="7.45" height="7.57" fill="rgb(62,52,255)"/>
<rect x="616.37" y="39.45" width="7.45" height="7.57" fill="rgb(75,65,255)"/>
<rect x="623.22" y="39.45" width="7.45" height="7.57" fill="rgb(88,80,255)"/>
<rect x="630.06" y="39.45" width="7.45" height="7.57" fill="rgb(100,94,255)"/>
<rect x="636.91" y="39.45" width="7.45" height="7.57" fill="rgb(125,123,255)"/>
<rect x="643.76" y="39.45" width="7.45" height="7.57" fill="rgb(188,188,255)"/>
<rect x="650.61" y="39.45" width="7.45" height="7.57" fill="rgb(200,200,255)"/>
<rect x="657.46" y="39.45" width="7.45" height="7.57" fill="rgb(248,248,255)"/>
<rect x="664.3" y="39.45" width="7.45" height="7.57" fill="rgb(247,183,187)"/>
<rect x="671.15" y="39.45" width="6.85" height="7.57" fill="rgb(242,143,150)"/>
<rect x="506.8" y="46.42" width="7.45" height="6.97" fill="rgb(150,150,255)"/>
<rect x="513.65" y="46.42" width="7.45" height="6.97" fill="rgb(200,200,255)"/>
<rect x="520.5" y="46.42" width="7.45" height="6.97" fill="rgb(254,250,251)"/>
<rect x="527.34" y="46.42" width="7.45" height="6.97" fill="rgb(247,183,187)"/>
<rect x="534.19" y="46.42" width="7.45" height="6.97" fill="rgb(241,130,137)"/>
<rect x="541.04" y="46.42" width="7.45" height="6.97" fill="rgb(247,183,187)"/>
<rect x="547.89" y="46.42" width="7.45" height="6.97" fill="rgb(248,196,200)"/>
<rect x="554.74" y="46.42" width="7.45" height="6.97" fill="rgb(242,143,150)"/>
<rect x="561.58" y="46.42" width="7.45" height="6.97" fill="rgb(248,196,200)"/>
<rect x="568.43" y="46.42" width="7.45" height="6.97" fill="rgb(252,231,233)"/>
<rect x="575.28" y="46.42" width="7.45" height="6.97" fill="rgb(233,233,255)"/>
<rect x="582.13" y="46.42" width="7.45" height="6.97" fill="rgb(222,222,255)"/>
<rect x="588.98" y="46.42" width="7.45" height="6.97" fill="rgb(175,175,255)"/>
<rect x="595.82" y="46.42" width="7.45" height="6.97" fill="rgb(113,109,255)"/>
<rect x="602.67" y="46.42" width="7.45" height="6.97" fill="rgb(88,80,255)"/>
<rect x="609.52" y="46.42" width="7.45" height="6.97" fill="rgb(49,39,255)"/>
<rect x="616.37" y="46.42" width="7.45" height="6.97" fill="rgb(75,65,255)"/>
<rect x="623.22" y="46.42" width="7.45" height="6.97" fill="rgb(49,39,255)"/>
<rect x="630.06" y="46.42" width="7.45" height="6.97" fill="rgb(125,123,255)"/>
<rect x="636.91" y="46.42" width="7.45" height="6.97" fill="rgb(138,138,255)"/>
<rect x="643.76" y="46.42" width="7.45" height="6.97" fill="rgb(188,188,255)"/>
<rect x="650.61" y="46.42" width="7.45" height="6.97" fill="rgb(222,222,255)"/>
<rect x="657.46" y="46.42" width="7.45" height="6.97" fill="rgb(252,231,233)"/>
<rect x="664.3" y="46.42" width="7.45" height="6.97" fill="rgb(249,208,211)"/>
<rect x="671.15" y="46.42" width="6.85" height="6.97" fill="rgb(244,156,162)"/>
<rect x="506.8" y="25.5" width="171.2" height="27.9" fill="none" stroke="#444" stroke-width="1"/>
<text x="504.8" y="20.4" font-size="11.4" text-anchor="end">0</text>
<text x="592.4" y="20.4" font-size="11.4" text-anchor="middle"><tspan font-style="italic">x</tspan> (cm)</text>
<text x="678" y="20.6" font-size="11.4" text-anchor="middle">1.2</text>
<text x="503.5" y="43.6" font-size="11.4" text-anchor="end"><tspan font-style="italic">y</tspan> (cm)</text>
<text x="505" y="64.7" font-size="11.4" text-anchor="end">0.2</text>
<rect x="553.2" y="69.3" width="79.5" height="5.9" fill="url(#cbar)" stroke="#777" stroke-width="0.6"/>
<text x="548.1" y="75.3" font-size="11.4" text-anchor="end">-95 dBm</text>
<text x="639.2" y="75.3" font-size="11.4" text-anchor="start">-80 dBm</text>
<path d="M513.8,104.5H676.7M513.8,128.25H676.7M513.8,152H676.7M513.8,175.75H676.7M520.7,96.5V199.5M545.58,96.5V199.5M570.47,96.5V199.5M595.35,96.5V199.5M620.23,96.5V199.5M645.12,96.5V199.5M670,96.5V199.5" stroke="#e6aaff" stroke-width="0.6" stroke-dasharray="1.5,1.15" fill="none"/>
<path d="M513.8,104.5h2.2M513.8,128.25h2.2M513.8,152h2.2M513.8,175.75h2.2M520.7,199.5v-2.2M545.58,199.5v-2.2M570.47,199.5v-2.2M595.35,199.5v-2.2M620.23,199.5v-2.2M645.12,199.5v-2.2M670,199.5v-2.2" stroke="#444" stroke-width="0.8" fill="none"/>
<rect x="513.8" y="96.5" width="162.9" height="103" fill="none" stroke="#505050" stroke-width="1"/>
<text x="508.5" y="108.7" font-size="11.4" text-anchor="end">-80.0</text>
<text x="508.5" y="200.6" font-size="11.4" text-anchor="end">-95.0</text>
<text x="520.7" y="213.2" font-size="11.4" text-anchor="middle">0</text>
<text x="545.58" y="213.2" font-size="11.4" text-anchor="middle">0.2</text>
<text x="570.47" y="213.2" font-size="11.4" text-anchor="middle">0.4</text>
<text x="595.35" y="213.2" font-size="11.4" text-anchor="middle">0.6</text>
<text x="620.23" y="213.2" font-size="11.4" text-anchor="middle">0.8</text>
<text x="645.12" y="213.2" font-size="11.4" text-anchor="middle">1.0</text>
<text x="670" y="213.2" font-size="11.4" text-anchor="middle">1.2</text>
<text x="595.35" y="229.8" font-size="11.4" text-anchor="middle"><tspan font-style="italic">x</tspan> (cm)</text>
<text transform="translate(476.5,148.4) rotate(-90)" font-size="11.3" text-anchor="middle">Holographic AM signal</text>
<text transform="translate(489.9,148.4) rotate(-90)" font-size="11.4" text-anchor="middle">(dBm)</text>
<polyline points="520.7,169.1 521.94,167.21 523.19,165.28 524.43,163.34 525.68,161.37 526.92,159.4 528.17,157.43 529.41,155.46 530.65,153.52 531.9,151.59 533.14,149.7 534.39,147.84 535.63,146.03 536.87,144.27 538.12,142.58 539.36,140.94 540.61,139.38 541.85,137.91 543.1,136.51 544.34,135.21 545.58,134 546.83,132.89 548.07,131.88 549.32,130.99 550.56,130.21 551.8,129.54 553.05,128.99 554.29,128.56 555.54,128.25 556.78,128.06 558.03,128 559.27,128.06 560.51,128.25 561.76,128.56 563,128.99 564.25,129.54 565.49,130.21 566.73,130.99 567.98,131.88 569.22,132.89 570.47,134 571.71,135.21 572.96,136.51 574.2,137.91 575.44,139.38 576.69,140.94 577.93,142.58 579.18,144.27 580.42,146.03 581.66,147.84 582.91,149.7 584.15,151.59 585.4,153.52 586.64,155.46 587.88,157.43 589.13,159.4 590.37,161.37 591.62,163.34 592.86,165.28 594.11,167.21 595.35,169.1 596.59,170.96 597.84,172.77 599.08,174.53 600.33,176.22 601.57,177.86 602.82,179.42 604.06,180.89 605.3,182.29 606.55,183.59 607.79,184.8 609.04,185.91 610.28,186.92 611.52,187.81 612.77,188.59 614.01,189.26 615.26,189.81 616.5,190.24 617.75,190.55 618.99,190.74 620.23,190.8 621.48,190.74 622.72,190.55 623.97,190.24 625.21,189.81 626.45,189.26 627.7,188.59 628.94,187.81 630.19,186.92 631.43,185.91 632.68,184.8 633.92,183.59 635.16,182.29 636.41,180.89 637.65,179.42 638.9,177.86 640.14,176.22 641.38,174.53 642.63,172.77 643.87,170.96 645.12,169.1 646.36,167.21 647.61,165.28 648.85,163.34 650.09,161.37 651.34,159.4 652.58,157.43 653.83,155.46 655.07,153.52 656.31,151.59 657.56,149.7 658.8,147.84 660.05,146.03 661.29,144.27 662.53,142.58 663.78,140.94 665.02,139.38 666.27,137.91 667.51,136.51 668.76,135.21 670,134" fill="none" stroke="#f0607a" stroke-width="0.9"/>
<path d="M520.7,153.5V164.9M519.4,153.5h2.6M519.4,164.9h2.6M526.92,151.6V161.6M525.62,151.6h2.6M525.62,161.6h2.6M551.8,118.9V132.5M550.5,118.9h2.6M550.5,132.5h2.6M558.03,132.1V139.1M556.73,132.1h2.6M556.73,139.1h2.6M564.25,121.6V133.2M562.95,121.6h2.6M562.95,133.2h2.6M576.69,132.2V139.8M575.39,132.2h2.6M575.39,139.8h2.6M582.91,145.9V157.3M581.61,145.9h2.6M581.61,157.3h2.6M601.57,164.1V178.1M600.27,164.1h2.6M600.27,178.1h2.6M607.79,168.2V176.2M606.49,168.2h2.6M606.49,176.2h2.6M620.23,174.6V181M618.93,174.6h2.6M618.93,181h2.6M626.45,176.6V184.2M625.15,176.6h2.6M625.15,184.2h2.6M638.9,164.6V175.4M637.6,164.6h2.6M637.6,175.4h2.6M645.12,155.9V168.5M643.82,155.9h2.6M643.82,168.5h2.6M657.56,140.6V152.6M656.26,140.6h2.6M656.26,152.6h2.6" stroke="#a6e2d6" stroke-width="0.8" fill="none"/>
<circle cx="520.7" cy="159.2" r="2.2" fill="url(#g_teal)"/>
<circle cx="526.92" cy="156.6" r="2.2" fill="url(#g_teal)"/>
<circle cx="533.14" cy="151.2" r="2.2" fill="url(#g_teal)"/>
<circle cx="539.36" cy="141.5" r="2.2" fill="url(#g_teal)"/>
<circle cx="545.58" cy="126.3" r="2.2" fill="url(#g_teal)"/>
<circle cx="551.8" cy="125.7" r="2.2" fill="url(#g_teal)"/>
<circle cx="558.03" cy="135.6" r="2.2" fill="url(#g_teal)"/>
<circle cx="564.25" cy="127.4" r="2.2" fill="url(#g_teal)"/>
<circle cx="570.47" cy="139.9" r="2.2" fill="url(#g_teal)"/>
<circle cx="576.69" cy="136" r="2.2" fill="url(#g_teal)"/>
<circle cx="582.91" cy="151.6" r="2.2" fill="url(#g_teal)"/>
<circle cx="589.13" cy="154" r="2.2" fill="url(#g_teal)"/>
<circle cx="595.35" cy="163.7" r="2.2" fill="url(#g_teal)"/>
<circle cx="601.57" cy="171.1" r="2.2" fill="url(#g_teal)"/>
<circle cx="607.79" cy="172.2" r="2.2" fill="url(#g_teal)"/>
<circle cx="614.01" cy="179.5" r="2.2" fill="url(#g_teal)"/>
<circle cx="620.23" cy="177.8" r="2.2" fill="url(#g_teal)"/>
<circle cx="626.45" cy="180.4" r="2.2" fill="url(#g_teal)"/>
<circle cx="632.68" cy="178.7" r="2.2" fill="url(#g_teal)"/>
<circle cx="638.9" cy="170" r="2.2" fill="url(#g_teal)"/>
<circle cx="645.12" cy="162.2" r="2.2" fill="url(#g_teal)"/>
<circle cx="651.34" cy="152.9" r="2.2" fill="url(#g_teal)"/>
<circle cx="657.56" cy="146.6" r="2.2" fill="url(#g_teal)"/>
<circle cx="663.78" cy="135.8" r="2.2" fill="url(#g_teal)"/>
<circle cx="670" cy="135.8" r="2.2" fill="url(#g_teal)"/>
<text x="2.3" y="254.5" font-size="14.5" text-anchor="start">(d)</text>
<rect x="37.2" y="268.9" width="7.45" height="7.5" fill="rgb(242,118,124)"/>
<rect x="44.05" y="268.9" width="7.45" height="7.5" fill="rgb(251,220,222)"/>
<rect x="50.9" y="268.9" width="7.45" height="7.5" fill="rgb(251,220,222)"/>
<rect x="57.74" y="268.9" width="7.45" height="7.5" fill="rgb(237,237,255)"/>
<rect x="64.59" y="268.9" width="7.45" height="7.5" fill="rgb(211,211,255)"/>
<rect x="71.44" y="268.9" width="7.45" height="7.5" fill="rgb(188,188,255)"/>
<rect x="78.29" y="268.9" width="7.45" height="7.5" fill="rgb(200,200,255)"/>
<rect x="85.14" y="268.9" width="7.45" height="7.5" fill="rgb(222,222,255)"/>
<rect x="91.98" y="268.9" width="7.45" height="7.5" fill="rgb(237,237,255)"/>
<rect x="98.83" y="268.9" width="7.45" height="7.5" fill="rgb(252,227,229)"/>
<rect x="105.68" y="268.9" width="7.45" height="7.5" fill="rgb(249,208,211)"/>
<rect x="112.53" y="268.9" width="7.45" height="7.5" fill="rgb(242,118,124)"/>
<rect x="119.38" y="268.9" width="7.45" height="7.5" fill="rgb(242,105,112)"/>
<rect x="126.22" y="268.9" width="7.45" height="7.5" fill="rgb(246,57,62)"/>
<rect x="133.07" y="268.9" width="7.45" height="7.5" fill="rgb(246,57,62)"/>
<rect x="139.92" y="268.9" width="7.45" height="7.5" fill="rgb(251,36,38)"/>
<rect x="146.77" y="268.9" width="7.45" height="7.5" fill="rgb(248,46,50)"/>
<rect x="153.62" y="268.9" width="7.45" height="7.5" fill="rgb(248,46,50)"/>
<rect x="160.46" y="268.9" width="7.45" height="7.5" fill="rgb(246,57,62)"/>
<rect x="167.31" y="268.9" width="7.45" height="7.5" fill="rgb(242,105,112)"/>
<rect x="174.16" y="268.9" width="7.45" height="7.5" fill="rgb(242,143,150)"/>
<rect x="181.01" y="268.9" width="7.45" height="7.5" fill="rgb(247,183,187)"/>
<rect x="187.86" y="268.9" width="7.45" height="7.5" fill="rgb(254,250,251)"/>
<rect x="194.7" y="268.9" width="7.45" height="7.5" fill="rgb(229,229,255)"/>
<rect x="201.55" y="268.9" width="6.85" height="7.5" fill="rgb(229,229,255)"/>
<rect x="37.2" y="275.8" width="7.45" height="7.5" fill="rgb(242,118,124)"/>
<rect x="44.05" y="275.8" width="7.45" height="7.5" fill="rgb(249,208,211)"/>
<rect x="50.9" y="275.8" width="7.45" height="7.5" fill="rgb(254,250,251)"/>
<rect x="57.74" y="275.8" width="7.45" height="7.5" fill="rgb(237,237,255)"/>
<rect x="64.59" y="275.8" width="7.45" height="7.5" fill="rgb(200,200,255)"/>
<rect x="71.44" y="275.8" width="7.45" height="7.5" fill="rgb(200,200,255)"/>
<rect x="78.29" y="275.8" width="7.45" height="7.5" fill="rgb(188,188,255)"/>
<rect x="85.14" y="275.8" width="7.45" height="7.5" fill="rgb(215,215,255)"/>
<rect x="91.98" y="275.8" width="7.45" height="7.5" fill="rgb(237,237,255)"/>
<rect x="98.83" y="275.8" width="7.45" height="7.5" fill="rgb(252,231,233)"/>
<rect x="105.68" y="275.8" width="7.45" height="7.5" fill="rgb(248,196,200)"/>
<rect x="112.53" y="275.8" width="7.45" height="7.5" fill="rgb(244,156,162)"/>
<rect x="119.38" y="275.8" width="7.45" height="7.5" fill="rgb(242,118,124)"/>
<rect x="126.22" y="275.8" width="7.45" height="7.5" fill="rgb(246,57,62)"/>
<rect x="133.07" y="275.8" width="7.45" height="7.5" fill="rgb(251,36,38)"/>
<rect x="139.92" y="275.8" width="7.45" height="7.5" fill="rgb(253,25,26)"/>
<rect x="146.77" y="275.8" width="7.45" height="7.5" fill="rgb(248,46,50)"/>
<rect x="153.62" y="275.8" width="7.45" height="7.5" fill="rgb(248,46,50)"/>
<rect x="160.46" y="275.8" width="7.45" height="7.5" fill="rgb(248,46,50)"/>
<rect x="167.31" y="275.8" width="7.45" height="7.5" fill="rgb(243,93,99)"/>
<rect x="174.16" y="275.8" width="7.45" height="7.5" fill="rgb(241,130,137)"/>
<rect x="181.01" y="275.8" width="7.45" height="7.5" fill="rgb(248,196,200)"/>
<rect x="187.86" y="275.8" width="7.45" height="7.5" fill="rgb(252,227,229)"/>
<rect x="194.7" y="275.8" width="7.45" height="7.5" fill="rgb(233,233,255)"/>
<rect x="201.55" y="275.8" width="6.85" height="7.5" fill="rgb(200,200,255)"/>
<rect x="37.2" y="282.7" width="7.45" height="7.5" fill="rgb(241,130,137)"/>
<rect x="44.05" y="282.7" width="7.45" height="7.5" fill="rgb(251,220,222)"/>
<rect x="50.9" y="282.7" width="7.45" height="7.5" fill="rgb(254,248,248)"/>
<rect x="57.74" y="282.7" width="7.45" height="7.5" fill="rgb(233,233,255)"/>
<rect x="64.59" y="282.7" width="7.45" height="7.5" fill="rgb(200,200,255)"/>
<rect x="71.44" y="282.7" width="7.45" height="7.5" fill="rgb(200,200,255)"/>
<rect x="78.29" y="282.7" width="7.45" height="7.5" fill="rgb(188,188,255)"/>
<rect x="85.14" y="282.7" width="7.45" height="7.5" fill="rgb(215,215,255)"/>
<rect x="91.98" y="282.7" width="7.45" height="7.5" fill="rgb(244,244,255)"/>
<rect x="98.83" y="282.7" width="7.45" height="7.5" fill="rgb(254,250,251)"/>
<rect x="105.68" y="282.7" width="7.45" height="7.5" fill="rgb(245,170,175)"/>
<rect x="112.53" y="282.7" width="7.45" height="7.5" fill="rgb(241,130,137)"/>
<rect x="119.38" y="282.7" width="7.45" height="7.5" fill="rgb(242,105,112)"/>
<rect x="126.22" y="282.7" width="7.45" height="7.5" fill="rgb(244,68,74)"/>
<rect x="133.07" y="282.7" width="7.45" height="7.5" fill="rgb(244,68,74)"/>
<rect x="139.92" y="282.7" width="7.45" height="7.5" fill="rgb(251,36,38)"/>
<rect x="146.77" y="282.7" width="7.45" height="7.5" fill="rgb(251,36,38)"/>
<rect x="153.62" y="282.7" width="7.45" height="7.5" fill="rgb(243,80,87)"/>
<rect x="160.46" y="282.7" width="7.45" height="7.5" fill="rgb(246,57,62)"/>
<rect x="167.31" y="282.7" width="7.45" height="7.5" fill="rgb(242,143,150)"/>
<rect x="174.16" y="282.7" width="7.45" height="7.5" fill="rgb(244,156,162)"/>
<rect x="181.01" y="282.7" width="7.45" height="7.5" fill="rgb(248,196,200)"/>
<rect x="187.86" y="282.7" width="7.45" height="7.5" fill="rgb(253,236,237)"/>
<rect x="194.7" y="282.7" width="7.45" height="7.5" fill="rgb(237,237,255)"/>
<rect x="201.55" y="282.7" width="6.85" height="7.5" fill="rgb(200,200,255)"/>
<rect x="37.2" y="289.6" width="7.45" height="6.9" fill="rgb(242,118,124)"/>
<rect x="44.05" y="289.6" width="7.45" height="6.9" fill="rgb(248,196,200)"/>
<rect x="50.9" y="289.6" width="7.45" height="6.9" fill="rgb(252,231,233)"/>
<rect x="57.74" y="289.6" width="7.45" height="6.9" fill="rgb(244,244,255)"/>
<rect x="64.59" y="289.6" width="7.45" height="6.9" fill="rgb(233,233,255)"/>
<rect x="71.44" y="289.6" width="7.45" height="6.9" fill="rgb(188,188,255)"/>
<rect x="78.29" y="289.6" width="7.45" height="6.9" fill="rgb(200,200,255)"/>
<rect x="85.14" y="289.6" width="7.45" height="6.9" fill="rgb(222,222,255)"/>
<rect x="91.98" y="289.6" width="7.45" height="6.9" fill="rgb(229,229,255)"/>
<rect x="98.83" y="289.6" width="7.45" height="6.9" fill="rgb(252,231,233)"/>
<rect x="105.68" y="289.6" width="7.45" height="6.9" fill="rgb(248,196,200)"/>
<rect x="112.53" y="289.6" width="7.45" height="6.9" fill="rgb(245,170,175)"/>
<rect x="119.38" y="289.6" width="7.45" height="6.9" fill="rgb(242,118,124)"/>
<rect x="126.22" y="289.6" width="7.45" height="6.9" fill="rgb(246,57,62)"/>
<rect x="133.07" y="289.6" width="7.45" height="6.9" fill="rgb(253,25,26)"/>
<rect x="139.92" y="289.6" width="7.45" height="6.9" fill="rgb(251,36,38)"/>
<rect x="146.77" y="289.6" width="7.45" height="6.9" fill="rgb(251,36,38)"/>
<rect x="153.62" y="289.6" width="7.45" height="6.9" fill="rgb(243,80,87)"/>
<rect x="160.46" y="289.6" width="7.45" height="6.9" fill="rgb(243,93,99)"/>
<rect x="167.31" y="289.6" width="7.45" height="6.9" fill="rgb(242,105,112)"/>
<rect x="174.16" y="289.6" width="7.45" height="6.9" fill="rgb(244,156,162)"/>
<rect x="181.01" y="289.6" width="7.45" height="6.9" fill="rgb(251,220,222)"/>
<rect x="187.86" y="289.6" width="7.45" height="6.9" fill="rgb(252,227,229)"/>
<rect x="194.7" y="289.6" width="7.45" height="6.9" fill="rgb(233,233,255)"/>
<rect x="201.55" y="289.6" width="6.85" height="6.9" fill="rgb(215,215,255)"/>
<rect x="37.2" y="268.9" width="171.2" height="27.6" fill="none" stroke="#444" stroke-width="1"/>
<text x="35.2" y="263.8" font-size="11.4" text-anchor="end">0</text>
<text x="122.8" y="263.8" font-size="11.4" text-anchor="middle"><tspan font-style="italic">x</tspan> (cm)</text>
<text x="208.4" y="264" font-size="11.4" text-anchor="middle">1.2</text>
<text x="33.9" y="287" font-size="11.4" text-anchor="end"><tspan font-style="italic">y</tspan> (cm)</text>
<text x="35.4" y="307.8" font-size="11.4" text-anchor="end">0.2</text>
<rect x="83.6" y="310.8" width="79.5" height="5.9" fill="url(#cbar)" stroke="#777" stroke-width="0.6"/>
<text x="78.5" y="316.8" font-size="11.4" text-anchor="end">-92 dBm</text>
<text x="169.6" y="316.8" font-size="11.4" text-anchor="start">-56 dBm</text>
<path d="M46.3,365.2H209.4M46.3,390.9H209.4M46.3,416.6H209.4M53.3,339.5V442.3M78.15,339.5V442.3M103,339.5V442.3M127.85,339.5V442.3M152.7,339.5V442.3M177.55,339.5V442.3M202.4,339.5V442.3" stroke="#e6aaff" stroke-width="0.6" stroke-dasharray="1.5,1.15" fill="none"/>
<path d="M46.3,365.2h2.2M46.3,390.9h2.2M46.3,416.6h2.2M53.3,442.3v-2.2M78.15,442.3v-2.2M103,442.3v-2.2M127.85,442.3v-2.2M152.7,442.3v-2.2M177.55,442.3v-2.2M202.4,442.3v-2.2" stroke="#444" stroke-width="0.8" fill="none"/>
<rect x="46.3" y="339.5" width="163.1" height="102.8" fill="none" stroke="#505050" stroke-width="1"/>
<text x="41" y="345.1" font-size="11.4" text-anchor="end">-51.5</text>
<text x="41" y="443.4" font-size="11.4" text-anchor="end">-92.0</text>
<text x="53.3" y="456" font-size="11.4" text-anchor="middle">0</text>
<text x="78.15" y="456" font-size="11.4" text-anchor="middle">0.2</text>
<text x="103" y="456" font-size="11.4" text-anchor="middle">0.4</text>
<text x="127.85" y="456" font-size="11.4" text-anchor="middle">0.6</text>
<text x="152.7" y="456" font-size="11.4" text-anchor="middle">0.8</text>
<text x="177.55" y="456" font-size="11.4" text-anchor="middle">1.0</text>
<text x="202.4" y="456" font-size="11.4" text-anchor="middle">1.2</text>
<text x="127.85" y="472.6" font-size="11.4" text-anchor="middle"><tspan font-style="italic">x</tspan> (cm)</text>
<text transform="translate(9,391.9) rotate(-90)" font-size="11.3" text-anchor="middle">Holographic AM signal</text>
<text transform="translate(22.4,391.9) rotate(-90)" font-size="11.4" text-anchor="middle">(dBm)</text>
<polyline points="53.3,380.6 59.51,384.5 65.72,392.7 71.94,401.6 78.15,407.8 84.36,407 90.58,411.5 96.79,405 103,399.6 109.21,393.5 115.43,384 121.64,374.3 127.85,369.8 134.06,365 140.28,365 146.49,357.2 152.7,359.3 158.91,352 165.13,365.6 171.34,366.3 177.55,379 183.76,387.9 189.98,393.5 196.19,401.8 202.4,406.7" fill="none" stroke="#8ebcf0" stroke-width="0.9"/>
<path d="M53.3,377.4V383.8M52,377.4h2.6M52,383.8h2.6M65.72,389.7V395.7M64.42,389.7h2.6M64.42,395.7h2.6M96.79,403V407M95.49,403h2.6M95.49,407h2.6M196.19,398.8V404.8M194.89,398.8h2.6M194.89,404.8h2.6" stroke="#a8dc98" stroke-width="0.8" fill="none"/>
<circle cx="53.3" cy="380.6" r="2.2" fill="url(#g_green)"/>
<circle cx="59.51" cy="384.5" r="2.2" fill="url(#g_green)"/>
<circle cx="65.72" cy="392.7" r="2.2" fill="url(#g_green)"/>
<circle cx="71.94" cy="401.6" r="2.2" fill="url(#g_green)"/>
<circle cx="78.15" cy="407.8" r="2.2" fill="url(#g_green)"/>
<circle cx="84.36" cy="407" r="2.2" fill="url(#g_green)"/>
<circle cx="90.58" cy="411.5" r="2.2" fill="url(#g_green)"/>
<circle cx="96.79" cy="405" r="2.2" fill="url(#g_green)"/>
<circle cx="103" cy="399.6" r="2.2" fill="url(#g_green)"/>
<circle cx="109.21" cy="393.5" r="2.2" fill="url(#g_green)"/>
<circle cx="115.43" cy="384" r="2.2" fill="url(#g_green)"/>
<circle cx="121.64" cy="374.3" r="2.2" fill="url(#g_green)"/>
<circle cx="127.85" cy="369.8" r="2.2" fill="url(#g_green)"/>
<circle cx="134.06" cy="365" r="2.2" fill="url(#g_green)"/>
<circle cx="140.28" cy="365" r="2.2" fill="url(#g_green)"/>
<circle cx="146.49" cy="357.2" r="2.2" fill="url(#g_green)"/>
<circle cx="152.7" cy="359.3" r="2.2" fill="url(#g_green)"/>
<circle cx="158.91" cy="352" r="2.2" fill="url(#g_green)"/>
<circle cx="165.13" cy="365.6" r="2.2" fill="url(#g_green)"/>
<circle cx="171.34" cy="366.3" r="2.2" fill="url(#g_green)"/>
<circle cx="177.55" cy="379" r="2.2" fill="url(#g_green)"/>
<circle cx="183.76" cy="387.9" r="2.2" fill="url(#g_green)"/>
<circle cx="189.98" cy="393.5" r="2.2" fill="url(#g_green)"/>
<circle cx="196.19" cy="401.8" r="2.2" fill="url(#g_green)"/>
<circle cx="202.4" cy="406.7" r="2.2" fill="url(#g_green)"/>
<text x="237.1" y="254.1" font-size="14.5" text-anchor="start">(e)</text>
<rect x="272" y="268.5" width="7.45" height="7.55" fill="rgb(242,143,150)"/>
<rect x="278.85" y="268.5" width="7.45" height="7.55" fill="rgb(245,170,175)"/>
<rect x="285.7" y="268.5" width="7.45" height="7.55" fill="rgb(248,196,200)"/>
<rect x="292.54" y="268.5" width="7.45" height="7.55" fill="rgb(249,203,207)"/>
<rect x="299.39" y="268.5" width="7.45" height="7.55" fill="rgb(249,208,211)"/>
<rect x="306.24" y="268.5" width="7.45" height="7.55" fill="rgb(250,213,215)"/>
<rect x="313.09" y="268.5" width="7.45" height="7.55" fill="rgb(245,170,175)"/>
<rect x="319.94" y="268.5" width="7.45" height="7.55" fill="rgb(245,170,175)"/>
<rect x="326.78" y="268.5" width="7.45" height="7.55" fill="rgb(244,156,162)"/>
<rect x="333.63" y="268.5" width="7.45" height="7.55" fill="rgb(242,118,124)"/>
<rect x="340.48" y="268.5" width="7.45" height="7.55" fill="rgb(242,105,112)"/>
<rect x="347.33" y="268.5" width="7.45" height="7.55" fill="rgb(243,88,94)"/>
<rect x="354.18" y="268.5" width="7.45" height="7.55" fill="rgb(244,75,82)"/>
<rect x="361.02" y="268.5" width="7.45" height="7.55" fill="rgb(245,64,69)"/>
<rect x="367.87" y="268.5" width="7.45" height="7.55" fill="rgb(251,31,33)"/>
<rect x="374.72" y="268.5" width="7.45" height="7.55" fill="rgb(247,53,57)"/>
<rect x="381.57" y="268.5" width="7.45" height="7.55" fill="rgb(249,42,45)"/>
<rect x="388.42" y="268.5" width="7.45" height="7.55" fill="rgb(242,105,112)"/>
<rect x="395.26" y="268.5" width="7.45" height="7.55" fill="rgb(242,118,124)"/>
<rect x="402.11" y="268.5" width="7.45" height="7.55" fill="rgb(242,118,124)"/>
<rect x="408.96" y="268.5" width="7.45" height="7.55" fill="rgb(244,156,162)"/>
<rect x="415.81" y="268.5" width="7.45" height="7.55" fill="rgb(244,156,162)"/>
<rect x="422.66" y="268.5" width="7.45" height="7.55" fill="rgb(248,196,200)"/>
<rect x="429.5" y="268.5" width="7.45" height="7.55" fill="rgb(247,188,192)"/>
<rect x="436.35" y="268.5" width="6.85" height="7.55" fill="rgb(248,196,200)"/>
<rect x="272" y="275.45" width="7.45" height="7.55" fill="rgb(242,143,150)"/>
<rect x="278.85" y="275.45" width="7.45" height="7.55" fill="rgb(247,183,187)"/>
<rect x="285.7" y="275.45" width="7.45" height="7.55" fill="rgb(246,175,180)"/>
<rect x="292.54" y="275.45" width="7.45" height="7.55" fill="rgb(249,208,211)"/>
<rect x="299.39" y="275.45" width="7.45" height="7.55" fill="rgb(249,208,211)"/>
<rect x="306.24" y="275.45" width="7.45" height="7.55" fill="rgb(248,196,200)"/>
<rect x="313.09" y="275.45" width="7.45" height="7.55" fill="rgb(249,203,207)"/>
<rect x="319.94" y="275.45" width="7.45" height="7.55" fill="rgb(245,170,175)"/>
<rect x="326.78" y="275.45" width="7.45" height="7.55" fill="rgb(241,130,137)"/>
<rect x="333.63" y="275.45" width="7.45" height="7.55" fill="rgb(241,130,137)"/>
<rect x="340.48" y="275.45" width="7.45" height="7.55" fill="rgb(241,130,137)"/>
<rect x="347.33" y="275.45" width="7.45" height="7.55" fill="rgb(244,75,82)"/>
<rect x="354.18" y="275.45" width="7.45" height="7.55" fill="rgb(244,75,82)"/>
<rect x="361.02" y="275.45" width="7.45" height="7.55" fill="rgb(247,53,57)"/>
<rect x="367.87" y="275.45" width="7.45" height="7.55" fill="rgb(251,31,33)"/>
<rect x="374.72" y="275.45" width="7.45" height="7.55" fill="rgb(247,53,57)"/>
<rect x="381.57" y="275.45" width="7.45" height="7.55" fill="rgb(245,64,69)"/>
<rect x="388.42" y="275.45" width="7.45" height="7.55" fill="rgb(244,68,74)"/>
<rect x="395.26" y="275.45" width="7.45" height="7.55" fill="rgb(242,118,124)"/>
<rect x="402.11" y="275.45" width="7.45" height="7.55" fill="rgb(241,130,137)"/>
<rect x="408.96" y="275.45" width="7.45" height="7.55" fill="rgb(244,162,167)"/>
<rect x="415.81" y="275.45" width="7.45" height="7.55" fill="rgb(246,178,182)"/>
<rect x="422.66" y="275.45" width="7.45" height="7.55" fill="rgb(247,183,187)"/>
<rect x="429.5" y="275.45" width="7.45" height="7.55" fill="rgb(249,208,211)"/>
<rect x="436.35" y="275.45" width="6.85" height="7.55" fill="rgb(249,208,211)"/>
<rect x="272" y="282.4" width="7.45" height="7.55" fill="rgb(244,156,162)"/>
<rect x="278.85" y="282.4" width="7.45" height="7.55" fill="rgb(245,170,175)"/>
<rect x="285.7" y="282.4" width="7.45" height="7.55" fill="rgb(249,203,207)"/>
<rect x="292.54" y="282.4" width="7.45" height="7.55" fill="rgb(249,208,211)"/>
<rect x="299.39" y="282.4" width="7.45" height="7.55" fill="rgb(249,208,211)"/>
<rect x="306.24" y="282.4" width="7.45" height="7.55" fill="rgb(249,208,211)"/>
<rect x="313.09" y="282.4" width="7.45" height="7.55" fill="rgb(247,188,192)"/>
<rect x="319.94" y="282.4" width="7.45" height="7.55" fill="rgb(247,183,187)"/>
<rect x="326.78" y="282.4" width="7.45" height="7.55" fill="rgb(241,130,137)"/>
<rect x="333.63" y="282.4" width="7.45" height="7.55" fill="rgb(241,130,137)"/>
<rect x="340.48" y="282.4" width="7.45" height="7.55" fill="rgb(242,118,124)"/>
<rect x="347.33" y="282.4" width="7.45" height="7.55" fill="rgb(243,88,94)"/>
<rect x="354.18" y="282.4" width="7.45" height="7.55" fill="rgb(247,53,57)"/>
<rect x="361.02" y="282.4" width="7.45" height="7.55" fill="rgb(247,53,57)"/>
<rect x="367.87" y="282.4" width="7.45" height="7.55" fill="rgb(243,88,94)"/>
<rect x="374.72" y="282.4" width="7.45" height="7.55" fill="rgb(249,42,45)"/>
<rect x="381.57" y="282.4" width="7.45" height="7.55" fill="rgb(244,75,82)"/>
<rect x="388.42" y="282.4" width="7.45" height="7.55" fill="rgb(243,80,87)"/>
<rect x="395.26" y="282.4" width="7.45" height="7.55" fill="rgb(242,105,112)"/>
<rect x="402.11" y="282.4" width="7.45" height="7.55" fill="rgb(242,143,150)"/>
<rect x="408.96" y="282.4" width="7.45" height="7.55" fill="rgb(244,156,162)"/>
<rect x="415.81" y="282.4" width="7.45" height="7.55" fill="rgb(247,183,187)"/>
<rect x="422.66" y="282.4" width="7.45" height="7.55" fill="rgb(247,183,187)"/>
<rect x="429.5" y="282.4" width="7.45" height="7.55" fill="rgb(247,188,192)"/>
<rect x="436.35" y="282.4" width="6.85" height="7.55" fill="rgb(249,208,211)"/>
<rect x="272" y="289.35" width="7.45" height="6.95" fill="rgb(244,156,162)"/>
<rect x="278.85" y="289.35" width="7.45" height="6.95" fill="rgb(244,156,162)"/>
<rect x="285.7" y="289.35" width="7.45" height="6.95" fill="rgb(249,208,211)"/>
<rect x="292.54" y="289.35" width="7.45" height="6.95" fill="rgb(249,208,211)"/>
<rect x="299.39" y="289.35" width="7.45" height="6.95" fill="rgb(249,208,211)"/>
<rect x="306.24" y="289.35" width="7.45" height="6.95" fill="rgb(249,208,211)"/>
<rect x="313.09" y="289.35" width="7.45" height="6.95" fill="rgb(249,203,207)"/>
<rect x="319.94" y="289.35" width="7.45" height="6.95" fill="rgb(244,156,162)"/>
<rect x="326.78" y="289.35" width="7.45" height="6.95" fill="rgb(244,156,162)"/>
<rect x="333.63" y="289.35" width="7.45" height="6.95" fill="rgb(241,130,137)"/>
<rect x="340.48" y="289.35" width="7.45" height="6.95" fill="rgb(241,130,137)"/>
<rect x="347.33" y="289.35" width="7.45" height="6.95" fill="rgb(242,100,107)"/>
<rect x="354.18" y="289.35" width="7.45" height="6.95" fill="rgb(245,64,69)"/>
<rect x="361.02" y="289.35" width="7.45" height="6.95" fill="rgb(245,64,69)"/>
<rect x="367.87" y="289.35" width="7.45" height="6.95" fill="rgb(251,31,33)"/>
<rect x="374.72" y="289.35" width="7.45" height="6.95" fill="rgb(245,64,69)"/>
<rect x="381.57" y="289.35" width="7.45" height="6.95" fill="rgb(245,64,69)"/>
<rect x="388.42" y="289.35" width="7.45" height="6.95" fill="rgb(244,68,74)"/>
<rect x="395.26" y="289.35" width="7.45" height="6.95" fill="rgb(242,118,124)"/>
<rect x="402.11" y="289.35" width="7.45" height="6.95" fill="rgb(242,143,150)"/>
<rect x="408.96" y="289.35" width="7.45" height="6.95" fill="rgb(244,156,162)"/>
<rect x="415.81" y="289.35" width="7.45" height="6.95" fill="rgb(244,162,167)"/>
<rect x="422.66" y="289.35" width="7.45" height="6.95" fill="rgb(247,188,192)"/>
<rect x="429.5" y="289.35" width="7.45" height="6.95" fill="rgb(250,213,215)"/>
<rect x="436.35" y="289.35" width="6.85" height="6.95" fill="rgb(247,183,187)"/>
<rect x="272" y="268.5" width="171.2" height="27.8" fill="none" stroke="#444" stroke-width="1"/>
<text x="270" y="263.4" font-size="11.4" text-anchor="end">0</text>
<text x="357.6" y="263.4" font-size="11.4" text-anchor="middle"><tspan font-style="italic">x</tspan> (cm)</text>
<text x="443.2" y="263.6" font-size="11.4" text-anchor="middle">1.2</text>
<text x="268.7" y="286.6" font-size="11.4" text-anchor="end"><tspan font-style="italic">y</tspan> (cm)</text>
<text x="270.2" y="307.6" font-size="11.4" text-anchor="end">0.2</text>
<rect x="318.4" y="310.8" width="79.5" height="5.9" fill="url(#cbar)" stroke="#777" stroke-width="0.6"/>
<text x="313.3" y="316.8" font-size="11.4" text-anchor="end">-95 dBm</text>
<text x="404.4" y="316.8" font-size="11.4" text-anchor="start">-78 dBm</text>
<path d="M279.6,354.5H442.4M279.6,376.45H442.4M279.6,398.4H442.4M279.6,420.35H442.4M285.8,339.7V442.3M310.73,339.7V442.3M335.67,339.7V442.3M360.6,339.7V442.3M385.53,339.7V442.3M410.47,339.7V442.3M435.4,339.7V442.3" stroke="#e6aaff" stroke-width="0.6" stroke-dasharray="1.5,1.15" fill="none"/>
<path d="M279.6,354.5h2.2M279.6,376.45h2.2M279.6,398.4h2.2M279.6,420.35h2.2M285.8,442.3v-2.2M310.73,442.3v-2.2M335.67,442.3v-2.2M360.6,442.3v-2.2M385.53,442.3v-2.2M410.47,442.3v-2.2M435.4,442.3v-2.2" stroke="#444" stroke-width="0.8" fill="none"/>
<rect x="279.6" y="339.7" width="162.8" height="102.6" fill="none" stroke="#505050" stroke-width="1"/>
<text x="274.3" y="358.7" font-size="11.4" text-anchor="end">-80.0</text>
<text x="274.3" y="443.4" font-size="11.4" text-anchor="end">-95.0</text>
<text x="285.8" y="456" font-size="11.4" text-anchor="middle">0</text>
<text x="310.73" y="456" font-size="11.4" text-anchor="middle">0.2</text>
<text x="335.67" y="456" font-size="11.4" text-anchor="middle">0.4</text>
<text x="360.6" y="456" font-size="11.4" text-anchor="middle">0.6</text>
<text x="385.53" y="456" font-size="11.4" text-anchor="middle">0.8</text>
<text x="410.47" y="456" font-size="11.4" text-anchor="middle">1.0</text>
<text x="435.4" y="456" font-size="11.4" text-anchor="middle">1.2</text>
<text x="360.6" y="472.6" font-size="11.4" text-anchor="middle"><tspan font-style="italic">x</tspan> (cm)</text>
<text transform="translate(242.3,392) rotate(-90)" font-size="11.3" text-anchor="middle">Holographic AM signal</text>
<text transform="translate(255.7,392) rotate(-90)" font-size="11.4" text-anchor="middle">(dBm)</text>
<polyline points="285.8,376.12 287.05,376.53 288.29,376.91 289.54,377.28 290.79,377.62 292.03,377.93 293.28,378.22 294.53,378.49 295.77,378.72 297.02,378.92 298.27,379.1 299.51,379.24 300.76,379.35 302.01,379.44 303.25,379.48 304.5,379.5 305.75,379.48 306.99,379.44 308.24,379.35 309.49,379.24 310.73,379.1 311.98,378.92 313.23,378.72 314.47,378.49 315.72,378.22 316.97,377.93 318.21,377.62 319.46,377.28 320.71,376.91 321.95,376.53 323.2,376.12 324.45,375.69 325.69,375.25 326.94,374.79 328.19,374.32 329.43,373.83 330.68,373.34 331.93,372.84 333.17,372.33 334.42,371.81 335.67,371.3 336.91,370.79 338.16,370.27 339.41,369.76 340.65,369.26 341.9,368.77 343.15,368.28 344.39,367.81 345.64,367.35 346.89,366.91 348.13,366.48 349.38,366.07 350.63,365.69 351.87,365.32 353.12,364.98 354.37,364.67 355.61,364.38 356.86,364.11 358.11,363.88 359.35,363.68 360.6,363.5 361.85,363.36 363.09,363.25 364.34,363.16 365.59,363.12 366.83,363.1 368.08,363.12 369.33,363.16 370.57,363.25 371.82,363.36 373.07,363.5 374.31,363.68 375.56,363.88 376.81,364.11 378.05,364.38 379.3,364.67 380.55,364.98 381.79,365.32 383.04,365.69 384.29,366.07 385.53,366.48 386.78,366.91 388.03,367.35 389.27,367.81 390.52,368.28 391.77,368.77 393.01,369.26 394.26,369.76 395.51,370.27 396.75,370.79 398,371.3 399.25,371.81 400.49,372.33 401.74,372.84 402.99,373.34 404.23,373.83 405.48,374.32 406.73,374.79 407.97,375.25 409.22,375.69 410.47,376.12 411.71,376.53 412.96,376.91 414.21,377.28 415.45,377.62 416.7,377.93 417.95,378.22 419.19,378.49 420.44,378.72 421.69,378.92 422.93,379.1 424.18,379.24 425.43,379.35 426.67,379.44 427.92,379.48 429.17,379.5 430.41,379.48 431.66,379.44 432.91,379.35 434.15,379.24 435.4,379.1" fill="none" stroke="#f0607a" stroke-width="0.9"/>
<path d="M285.8,363.7V368.5M284.5,363.7h2.6M284.5,368.5h2.6M292.03,369.5V376.9M290.73,369.5h2.6M290.73,376.9h2.6M298.27,369.2V377.2M296.97,369.2h2.6M296.97,377.2h2.6M304.5,375.5V381.3M303.2,375.5h2.6M303.2,381.3h2.6M310.73,374.2V382.6M309.43,374.2h2.6M309.43,382.6h2.6M329.43,371.8V379M328.13,371.8h2.6M328.13,379h2.6M341.9,364.2V371.4M340.6,364.2h2.6M340.6,371.4h2.6M348.13,354.1V362.9M346.83,354.1h2.6M346.83,362.9h2.6M360.6,351.8V360.6M359.3,351.8h2.6M359.3,360.6h2.6M366.83,348.5V352.5M365.53,348.5h2.6M365.53,352.5h2.6M379.3,348V357.8M378,348h2.6M378,357.8h2.6M385.53,351.5V361.9M384.23,351.5h2.6M384.23,361.9h2.6M398,356.8V366.6M396.7,356.8h2.6M396.7,366.6h2.6M404.23,360V370M402.93,360h2.6M402.93,370h2.6M416.7,371.2V376M415.4,371.2h2.6M415.4,376h2.6M429.17,373.5V383.3M427.87,373.5h2.6M427.87,383.3h2.6" stroke="#f0a0f4" stroke-width="0.8" fill="none"/>
<circle cx="285.8" cy="366.1" r="2.2" fill="url(#g_magenta)"/>
<circle cx="292.03" cy="373.2" r="2.2" fill="url(#g_magenta)"/>
<circle cx="298.27" cy="373.2" r="2.2" fill="url(#g_magenta)"/>
<circle cx="304.5" cy="378.4" r="2.2" fill="url(#g_magenta)"/>
<circle cx="310.73" cy="378.4" r="2.2" fill="url(#g_magenta)"/>
<circle cx="316.97" cy="380.6" r="2.2" fill="url(#g_magenta)"/>
<circle cx="323.2" cy="378.8" r="2.2" fill="url(#g_magenta)"/>
<circle cx="329.43" cy="375.4" r="2.2" fill="url(#g_magenta)"/>
<circle cx="335.67" cy="371.5" r="2.2" fill="url(#g_magenta)"/>
<circle cx="341.9" cy="367.8" r="2.2" fill="url(#g_magenta)"/>
<circle cx="348.13" cy="358.5" r="2.2" fill="url(#g_magenta)"/>
<circle cx="354.37" cy="356.1" r="2.2" fill="url(#g_magenta)"/>
<circle cx="360.6" cy="356.2" r="2.2" fill="url(#g_magenta)"/>
<circle cx="366.83" cy="350.5" r="2.2" fill="url(#g_magenta)"/>
<circle cx="373.07" cy="349" r="2.2" fill="url(#g_magenta)"/>
<circle cx="379.3" cy="352.9" r="2.2" fill="url(#g_magenta)"/>
<circle cx="385.53" cy="356.7" r="2.2" fill="url(#g_magenta)"/>
<circle cx="391.77" cy="354.6" r="2.2" fill="url(#g_magenta)"/>
<circle cx="398" cy="361.7" r="2.2" fill="url(#g_magenta)"/>
<circle cx="404.23" cy="365" r="2.2" fill="url(#g_magenta)"/>
<circle cx="410.47" cy="367.8" r="2.2" fill="url(#g_magenta)"/>
<circle cx="416.7" cy="373.6" r="2.2" fill="url(#g_magenta)"/>
<circle cx="422.93" cy="375.1" r="2.2" fill="url(#g_magenta)"/>
<circle cx="429.17" cy="378.4" r="2.2" fill="url(#g_magenta)"/>
<circle cx="435.4" cy="377.5" r="2.2" fill="url(#g_magenta)"/>
<text x="471.4" y="254.1" font-size="14.5" text-anchor="start">(f)</text>
<rect x="506.3" y="268.5" width="7.45" height="7.57" fill="rgb(247,183,187)"/>
<rect x="513.15" y="268.5" width="7.45" height="7.57" fill="rgb(254,250,251)"/>
<rect x="520" y="268.5" width="7.45" height="7.57" fill="rgb(211,211,255)"/>
<rect x="526.84" y="268.5" width="7.45" height="7.57" fill="rgb(138,138,255)"/>
<rect x="533.69" y="268.5" width="7.45" height="7.57" fill="rgb(75,65,255)"/>
<rect x="540.54" y="268.5" width="7.45" height="7.57" fill="rgb(36,26,255)"/>
<rect x="547.39" y="268.5" width="7.45" height="7.57" fill="rgb(62,52,255)"/>
<rect x="554.24" y="268.5" width="7.45" height="7.57" fill="rgb(62,52,255)"/>
<rect x="561.08" y="268.5" width="7.45" height="7.57" fill="rgb(88,80,255)"/>
<rect x="567.93" y="268.5" width="7.45" height="7.57" fill="rgb(125,123,255)"/>
<rect x="574.78" y="268.5" width="7.45" height="7.57" fill="rgb(188,188,255)"/>
<rect x="581.63" y="268.5" width="7.45" height="7.57" fill="rgb(237,237,255)"/>
<rect x="588.48" y="268.5" width="7.45" height="7.57" fill="rgb(242,143,150)"/>
<rect x="595.32" y="268.5" width="7.45" height="7.57" fill="rgb(241,130,137)"/>
<rect x="602.17" y="268.5" width="7.45" height="7.57" fill="rgb(243,80,87)"/>
<rect x="609.02" y="268.5" width="7.45" height="7.57" fill="rgb(251,36,38)"/>
<rect x="615.87" y="268.5" width="7.45" height="7.57" fill="rgb(244,68,74)"/>
<rect x="622.72" y="268.5" width="7.45" height="7.57" fill="rgb(244,68,74)"/>
<rect x="629.56" y="268.5" width="7.45" height="7.57" fill="rgb(251,36,38)"/>
<rect x="636.41" y="268.5" width="7.45" height="7.57" fill="rgb(242,105,112)"/>
<rect x="643.26" y="268.5" width="7.45" height="7.57" fill="rgb(245,170,175)"/>
<rect x="650.11" y="268.5" width="7.45" height="7.57" fill="rgb(255,255,255)"/>
<rect x="656.96" y="268.5" width="7.45" height="7.57" fill="rgb(188,188,255)"/>
<rect x="663.8" y="268.5" width="7.45" height="7.57" fill="rgb(150,150,255)"/>
<rect x="670.65" y="268.5" width="6.85" height="7.57" fill="rgb(88,80,255)"/>
<rect x="506.3" y="275.48" width="7.45" height="7.57" fill="rgb(247,183,187)"/>
<rect x="513.15" y="275.48" width="7.45" height="7.57" fill="rgb(252,231,233)"/>
<rect x="520" y="275.48" width="7.45" height="7.57" fill="rgb(200,200,255)"/>
<rect x="526.84" y="275.48" width="7.45" height="7.57" fill="rgb(150,150,255)"/>
<rect x="533.69" y="275.48" width="7.45" height="7.57" fill="rgb(100,94,255)"/>
<rect x="540.54" y="275.48" width="7.45" height="7.57" fill="rgb(75,65,255)"/>
<rect x="547.39" y="275.48" width="7.45" height="7.57" fill="rgb(75,65,255)"/>
<rect x="554.24" y="275.48" width="7.45" height="7.57" fill="rgb(62,52,255)"/>
<rect x="561.08" y="275.48" width="7.45" height="7.57" fill="rgb(125,123,255)"/>
<rect x="567.93" y="275.48" width="7.45" height="7.57" fill="rgb(138,138,255)"/>
<rect x="574.78" y="275.48" width="7.45" height="7.57" fill="rgb(188,188,255)"/>
<rect x="581.63" y="275.48" width="7.45" height="7.57" fill="rgb(255,255,255)"/>
<rect x="588.48" y="275.48" width="7.45" height="7.57" fill="rgb(245,170,175)"/>
<rect x="595.32" y="275.48" width="7.45" height="7.57" fill="rgb(241,130,137)"/>
<rect x="602.17" y="275.48" width="7.45" height="7.57" fill="rgb(243,80,87)"/>
<rect x="609.02" y="275.48" width="7.45" height="7.57" fill="rgb(246,57,62)"/>
<rect x="615.87" y="275.48" width="7.45" height="7.57" fill="rgb(253,25,26)"/>
<rect x="622.72" y="275.48" width="7.45" height="7.57" fill="rgb(248,46,50)"/>
<rect x="629.56" y="275.48" width="7.45" height="7.57" fill="rgb(248,46,50)"/>
<rect x="636.41" y="275.48" width="7.45" height="7.57" fill="rgb(242,105,112)"/>
<rect x="643.26" y="275.48" width="7.45" height="7.57" fill="rgb(245,170,175)"/>
<rect x="650.11" y="275.48" width="7.45" height="7.57" fill="rgb(251,220,222)"/>
<rect x="656.96" y="275.48" width="7.45" height="7.57" fill="rgb(222,222,255)"/>
<rect x="663.8" y="275.48" width="7.45" height="7.57" fill="rgb(150,150,255)"/>
<rect x="670.65" y="275.48" width="6.85" height="7.57" fill="rgb(100,94,255)"/>
<rect x="506.3" y="282.45" width="7.45" height="7.57" fill="rgb(252,231,233)"/>
<rect x="513.15" y="282.45" width="7.45" height="7.57" fill="rgb(254,250,251)"/>
<rect x="520" y="282.45" width="7.45" height="7.57" fill="rgb(211,211,255)"/>
<rect x="526.84" y="282.45" width="7.45" height="7.57" fill="rgb(138,138,255)"/>
<rect x="533.69" y="282.45" width="7.45" height="7.57" fill="rgb(88,80,255)"/>
<rect x="540.54" y="282.45" width="7.45" height="7.57" fill="rgb(75,65,255)"/>
<rect x="547.39" y="282.45" width="7.45" height="7.57" fill="rgb(36,26,255)"/>
<rect x="554.24" y="282.45" width="7.45" height="7.57" fill="rgb(36,26,255)"/>
<rect x="561.08" y="282.45" width="7.45" height="7.57" fill="rgb(113,109,255)"/>
<rect x="567.93" y="282.45" width="7.45" height="7.57" fill="rgb(175,175,255)"/>
<rect x="574.78" y="282.45" width="7.45" height="7.57" fill="rgb(229,229,255)"/>
<rect x="581.63" y="282.45" width="7.45" height="7.57" fill="rgb(249,208,211)"/>
<rect x="588.48" y="282.45" width="7.45" height="7.57" fill="rgb(242,143,150)"/>
<rect x="595.32" y="282.45" width="7.45" height="7.57" fill="rgb(243,80,87)"/>
<rect x="602.17" y="282.45" width="7.45" height="7.57" fill="rgb(243,80,87)"/>
<rect x="609.02" y="282.45" width="7.45" height="7.57" fill="rgb(253,25,26)"/>
<rect x="615.87" y="282.45" width="7.45" height="7.57" fill="rgb(244,68,74)"/>
<rect x="622.72" y="282.45" width="7.45" height="7.57" fill="rgb(244,68,74)"/>
<rect x="629.56" y="282.45" width="7.45" height="7.57" fill="rgb(243,80,87)"/>
<rect x="636.41" y="282.45" width="7.45" height="7.57" fill="rgb(242,105,112)"/>
<rect x="643.26" y="282.45" width="7.45" height="7.57" fill="rgb(245,170,175)"/>
<rect x="650.11" y="282.45" width="7.45" height="7.57" fill="rgb(252,227,229)"/>
<rect x="656.96" y="282.45" width="7.45" height="7.57" fill="rgb(188,188,255)"/>
<rect x="663.8" y="282.45" width="7.45" height="7.57" fill="rgb(150,150,255)"/>
<rect x="670.65" y="282.45" width="6.85" height="7.57" fill="rgb(100,94,255)"/>
<rect x="506.3" y="289.42" width="7.45" height="6.97" fill="rgb(247,183,187)"/>
<rect x="513.15" y="289.42" width="7.45" height="6.97" fill="rgb(244,244,255)"/>
<rect x="520" y="289.42" width="7.45" height="6.97" fill="rgb(200,200,255)"/>
<rect x="526.84" y="289.42" width="7.45" height="6.97" fill="rgb(150,150,255)"/>
<rect x="533.69" y="289.42" width="7.45" height="6.97" fill="rgb(113,109,255)"/>
<rect x="540.54" y="289.42" width="7.45" height="6.97" fill="rgb(75,65,255)"/>
<rect x="547.39" y="289.42" width="7.45" height="6.97" fill="rgb(62,52,255)"/>
<rect x="554.24" y="289.42" width="7.45" height="6.97" fill="rgb(62,52,255)"/>
<rect x="561.08" y="289.42" width="7.45" height="6.97" fill="rgb(113,109,255)"/>
<rect x="567.93" y="289.42" width="7.45" height="6.97" fill="rgb(163,163,255)"/>
<rect x="574.78" y="289.42" width="7.45" height="6.97" fill="rgb(211,211,255)"/>
<rect x="581.63" y="289.42" width="7.45" height="6.97" fill="rgb(248,248,255)"/>
<rect x="588.48" y="289.42" width="7.45" height="6.97" fill="rgb(245,170,175)"/>
<rect x="595.32" y="289.42" width="7.45" height="6.97" fill="rgb(243,80,87)"/>
<rect x="602.17" y="289.42" width="7.45" height="6.97" fill="rgb(243,93,99)"/>
<rect x="609.02" y="289.42" width="7.45" height="6.97" fill="rgb(244,68,74)"/>
<rect x="615.87" y="289.42" width="7.45" height="6.97" fill="rgb(253,25,26)"/>
<rect x="622.72" y="289.42" width="7.45" height="6.97" fill="rgb(243,80,87)"/>
<rect x="629.56" y="289.42" width="7.45" height="6.97" fill="rgb(242,118,124)"/>
<rect x="636.41" y="289.42" width="7.45" height="6.97" fill="rgb(244,156,162)"/>
<rect x="643.26" y="289.42" width="7.45" height="6.97" fill="rgb(245,170,175)"/>
<rect x="650.11" y="289.42" width="7.45" height="6.97" fill="rgb(251,251,255)"/>
<rect x="656.96" y="289.42" width="7.45" height="6.97" fill="rgb(222,222,255)"/>
<rect x="663.8" y="289.42" width="7.45" height="6.97" fill="rgb(150,150,255)"/>
<rect x="670.65" y="289.42" width="6.85" height="6.97" fill="rgb(88,80,255)"/>
<rect x="506.3" y="268.5" width="171.2" height="27.9" fill="none" stroke="#444" stroke-width="1"/>
<text x="504.3" y="263.4" font-size="11.4" text-anchor="end">0</text>
<text x="591.9" y="263.4" font-size="11.4" text-anchor="middle"><tspan font-style="italic">x</tspan> (cm)</text>
<text x="677.5" y="263.6" font-size="11.4" text-anchor="middle">1.2</text>
<text x="503" y="286.6" font-size="11.4" text-anchor="end"><tspan font-style="italic">y</tspan> (cm)</text>
<text x="504.5" y="307.7" font-size="11.4" text-anchor="end">0.2</text>
<rect x="552.7" y="310.8" width="79.5" height="5.9" fill="url(#cbar)" stroke="#777" stroke-width="0.6"/>
<text x="547.6" y="316.8" font-size="11.4" text-anchor="end">-95 dBm</text>
<text x="638.7" y="316.8" font-size="11.4" text-anchor="start">-78 dBm</text>
<path d="M514.6,354.5H677.4M514.6,376.45H677.4M514.6,398.4H677.4M514.6,420.35H677.4M520.9,339.7V442.3M545.83,339.7V442.3M570.77,339.7V442.3M595.7,339.7V442.3M620.63,339.7V442.3M645.57,339.7V442.3M670.5,339.7V442.3" stroke="#e6aaff" stroke-width="0.6" stroke-dasharray="1.5,1.15" fill="none"/>
<path d="M514.6,354.5h2.2M514.6,376.45h2.2M514.6,398.4h2.2M514.6,420.35h2.2M520.9,442.3v-2.2M545.83,442.3v-2.2M570.77,442.3v-2.2M595.7,442.3v-2.2M620.63,442.3v-2.2M645.57,442.3v-2.2M670.5,442.3v-2.2" stroke="#444" stroke-width="0.8" fill="none"/>
<rect x="514.6" y="339.7" width="162.8" height="102.6" fill="none" stroke="#505050" stroke-width="1"/>
<text x="509.3" y="358.7" font-size="11.4" text-anchor="end">-80.0</text>
<text x="509.3" y="443.4" font-size="11.4" text-anchor="end">-95.0</text>
<text x="520.9" y="456" font-size="11.4" text-anchor="middle">0</text>
<text x="545.83" y="456" font-size="11.4" text-anchor="middle">0.2</text>
<text x="570.77" y="456" font-size="11.4" text-anchor="middle">0.4</text>
<text x="595.7" y="456" font-size="11.4" text-anchor="middle">0.6</text>
<text x="620.63" y="456" font-size="11.4" text-anchor="middle">0.8</text>
<text x="645.57" y="456" font-size="11.4" text-anchor="middle">1.0</text>
<text x="670.5" y="456" font-size="11.4" text-anchor="middle">1.2</text>
<text x="595.7" y="472.6" font-size="11.4" text-anchor="middle"><tspan font-style="italic">x</tspan> (cm)</text>
<text transform="translate(477.3,392) rotate(-90)" font-size="11.3" text-anchor="middle">Holographic AM signal</text>
<text transform="translate(490.7,392) rotate(-90)" font-size="11.4" text-anchor="middle">(dBm)</text>
<polyline points="520.9,383.93 522.15,386.25 523.39,388.6 524.64,390.99 525.89,393.39 527.13,395.8 528.38,398.21 529.63,400.61 530.87,403 532.12,405.35 533.37,407.67 534.61,409.94 535.86,412.15 537.11,414.3 538.35,416.38 539.6,418.37 540.85,420.28 542.09,422.09 543.34,423.79 544.59,425.39 545.83,426.87 547.08,428.22 548.33,429.45 549.57,430.55 550.82,431.5 552.07,432.32 553.31,432.99 554.56,433.52 555.81,433.9 557.05,434.12 558.3,434.2 559.55,434.12 560.79,433.9 562.04,433.52 563.29,432.99 564.53,432.32 565.78,431.5 567.03,430.55 568.27,429.45 569.52,428.22 570.77,426.87 572.01,425.39 573.26,423.79 574.51,422.09 575.75,420.28 577,418.37 578.25,416.38 579.49,414.3 580.74,412.15 581.99,409.94 583.23,407.67 584.48,405.35 585.73,403 586.97,400.61 588.22,398.21 589.47,395.8 590.71,393.39 591.96,390.99 593.21,388.6 594.45,386.25 595.7,383.93 596.95,381.66 598.19,379.45 599.44,377.3 600.69,375.22 601.93,373.23 603.18,371.32 604.43,369.51 605.67,367.81 606.92,366.21 608.17,364.73 609.41,363.38 610.66,362.15 611.91,361.05 613.15,360.1 614.4,359.28 615.65,358.61 616.89,358.08 618.14,357.7 619.39,357.48 620.63,357.4 621.88,357.48 623.13,357.7 624.37,358.08 625.62,358.61 626.87,359.28 628.11,360.1 629.36,361.05 630.61,362.15 631.85,363.38 633.1,364.73 634.35,366.21 635.59,367.81 636.84,369.51 638.09,371.32 639.33,373.23 640.58,375.22 641.83,377.3 643.07,379.45 644.32,381.66 645.57,383.93 646.81,386.25 648.06,388.6 649.31,390.99 650.55,393.39 651.8,395.8 653.05,398.21 654.29,400.61 655.54,403 656.79,405.35 658.03,407.67 659.28,409.94 660.53,412.15 661.77,414.3 663.02,416.38 664.27,418.37 665.51,420.28 666.76,422.09 668.01,423.79 669.25,425.39 670.5,426.87" fill="none" stroke="#f0607a" stroke-width="0.9"/>
<path d="M520.9,378.1V382.1M519.6,378.1h2.6M519.6,382.1h2.6M527.13,387.7V395.1M525.83,387.7h2.6M525.83,395.1h2.6M539.6,405.6V414.4M538.3,405.6h2.6M538.3,414.4h2.6M545.83,418V425.8M544.53,418h2.6M544.53,425.8h2.6M552.07,421V430.2M550.77,421h2.6M550.77,430.2h2.6M564.53,420.3V429.5M563.23,420.3h2.6M563.23,429.5h2.6M570.77,412.3V417.3M569.47,412.3h2.6M569.47,417.3h2.6M601.93,356.7V365.9M600.63,356.7h2.6M600.63,365.9h2.6M608.17,347.8V355.4M606.87,347.8h2.6M606.87,355.4h2.6M626.87,345.2V353.6M625.57,345.2h2.6M625.57,353.6h2.6M633.1,349.1V357.5M631.8,349.1h2.6M631.8,357.5h2.6M639.33,356.9V365.3M638.03,356.9h2.6M638.03,365.3h2.6M651.8,385.9V394.3M650.5,385.9h2.6M650.5,394.3h2.6M658.03,393.2V398.2M656.73,393.2h2.6M656.73,398.2h2.6M670.5,411.8V419.8M669.2,411.8h2.6M669.2,419.8h2.6" stroke="#f0a0f4" stroke-width="0.8" fill="none"/>
<circle cx="520.9" cy="380.1" r="2.2" fill="url(#g_magenta)"/>
<circle cx="527.13" cy="391.4" r="2.2" fill="url(#g_magenta)"/>
<circle cx="533.37" cy="396.4" r="2.2" fill="url(#g_magenta)"/>
<circle cx="539.6" cy="410" r="2.2" fill="url(#g_magenta)"/>
<circle cx="545.83" cy="421.9" r="2.2" fill="url(#g_magenta)"/>
<circle cx="552.07" cy="425.6" r="2.2" fill="url(#g_magenta)"/>
<circle cx="558.3" cy="429.5" r="2.2" fill="url(#g_magenta)"/>
<circle cx="564.53" cy="424.9" r="2.2" fill="url(#g_magenta)"/>
<circle cx="570.77" cy="414.8" r="2.2" fill="url(#g_magenta)"/>
<circle cx="577" cy="408.3" r="2.2" fill="url(#g_magenta)"/>
<circle cx="583.23" cy="392.5" r="2.2" fill="url(#g_magenta)"/>
<circle cx="589.47" cy="382.3" r="2.2" fill="url(#g_magenta)"/>
<circle cx="595.7" cy="379.6" r="2.2" fill="url(#g_magenta)"/>
<circle cx="601.93" cy="361.3" r="2.2" fill="url(#g_magenta)"/>
<circle cx="608.17" cy="351.6" r="2.2" fill="url(#g_magenta)"/>
<circle cx="614.4" cy="347.2" r="2.2" fill="url(#g_magenta)"/>
<circle cx="620.63" cy="351.6" r="2.2" fill="url(#g_magenta)"/>
<circle cx="626.87" cy="349.4" r="2.2" fill="url(#g_magenta)"/>
<circle cx="633.1" cy="353.3" r="2.2" fill="url(#g_magenta)"/>
<circle cx="639.33" cy="361.1" r="2.2" fill="url(#g_magenta)"/>
<circle cx="645.57" cy="368.9" r="2.2" fill="url(#g_magenta)"/>
<circle cx="651.8" cy="390.1" r="2.2" fill="url(#g_magenta)"/>
<circle cx="658.03" cy="395.7" r="2.2" fill="url(#g_magenta)"/>
<circle cx="664.27" cy="414.1" r="2.2" fill="url(#g_magenta)"/>
<circle cx="670.5" cy="415.8" r="2.2" fill="url(#g_magenta)"/>
<circle cx="178.4" cy="182.3" r="11.2" fill="none" stroke="#111" stroke-width="0.9"/>
<line x1="181.4" y1="172.2" x2="175.5" y2="192.4" stroke="#111" stroke-width="0.9" marker-start="url(#ah)" marker-end="url(#ah)"/>
<line x1="188.6" y1="180.2" x2="168" y2="185.2" stroke="#111" stroke-width="0.9" marker-start="url(#ah)" marker-end="url(#ah)"/>
<text x="178.2" y="165.8" font-size="11.5"><tspan font-style="italic">P</tspan><tspan font-size="7.2" dx="0.3" dy="2.4">1</tspan></text>
<text x="193.4" y="181.5" font-size="11.5"><tspan font-style="italic">P</tspan><tspan font-size="7.2" dx="0.3" dy="2.4">2</tspan></text>
<circle cx="411.3" cy="182.4" r="11.4" fill="none" stroke="#111" stroke-width="0.9"/>
<line x1="414.4" y1="171.3" x2="409" y2="193" stroke="#111" stroke-width="0.9" marker-start="url(#ah)" marker-end="url(#ah)"/>
<text x="404.8" y="165.7" font-size="11.5"><tspan font-style="italic">P</tspan><tspan font-size="7.2" dx="0.3" dy="2.4">1</tspan></text>
<circle cx="658.8" cy="182.7" r="11.5" fill="none" stroke="#111" stroke-width="0.9"/>
<line x1="648.6" y1="185.7" x2="669.4" y2="180.3" stroke="#111" stroke-width="0.9" marker-start="url(#ah)" marker-end="url(#ah)"/>
<text x="663.5" y="167.2" font-size="11.5"><tspan font-style="italic">P</tspan><tspan font-size="7.2" dx="0.3" dy="2.4">2</tspan></text>
<circle cx="178.2" cy="425.5" r="11.5" fill="none" stroke="#111" stroke-width="0.9"/>
<circle cx="178.4" cy="425.5" r="7.2" fill="none" stroke="#111" stroke-width="0.9"/>
<line x1="178.4" y1="414.4" x2="178.4" y2="436.6" stroke="#111" stroke-width="0.9" marker-start="url(#ah)" marker-end="url(#ah)"/>
<path d="M183.4,423.5 L187.1,423.5 L185.2,427.6 z" fill="#111"/>
<text x="173.3" y="408.8" font-size="11.5"><tspan font-style="italic">P</tspan><tspan font-size="7.2" dx="0.3" dy="2.4">4</tspan></text>
<text x="193.6" y="427.8" font-size="11.5"><tspan font-style="italic">P</tspan><tspan font-size="7.2" dx="0.3" dy="2.4">3</tspan></text>
<circle cx="411.6" cy="425.6" r="11.3" fill="none" stroke="#111" stroke-width="0.9"/>
<circle cx="411.9" cy="425.7" r="7.1" fill="none" stroke="#111" stroke-width="0.9"/>
<path d="M417.0,422.8 L420.7,422.8 L418.9,426.8 z" fill="#111"/>
<text x="427.4" y="427.6" font-size="11.5"><tspan font-style="italic">P</tspan><tspan font-size="7.2" dx="0.3" dy="2.4">3</tspan></text>
<circle cx="643.1" cy="425.5" r="11.5" fill="none" stroke="#111" stroke-width="0.9"/>
<line x1="643.4" y1="414.4" x2="643.4" y2="436.6" stroke="#111" stroke-width="0.9" marker-start="url(#ah)" marker-end="url(#ah)"/>
<text x="637.3" y="408.6" font-size="11.5"><tspan font-style="italic">P</tspan><tspan font-size="7.2" dx="0.3" dy="2.4">4</tspan></text>
</svg></body></html>
